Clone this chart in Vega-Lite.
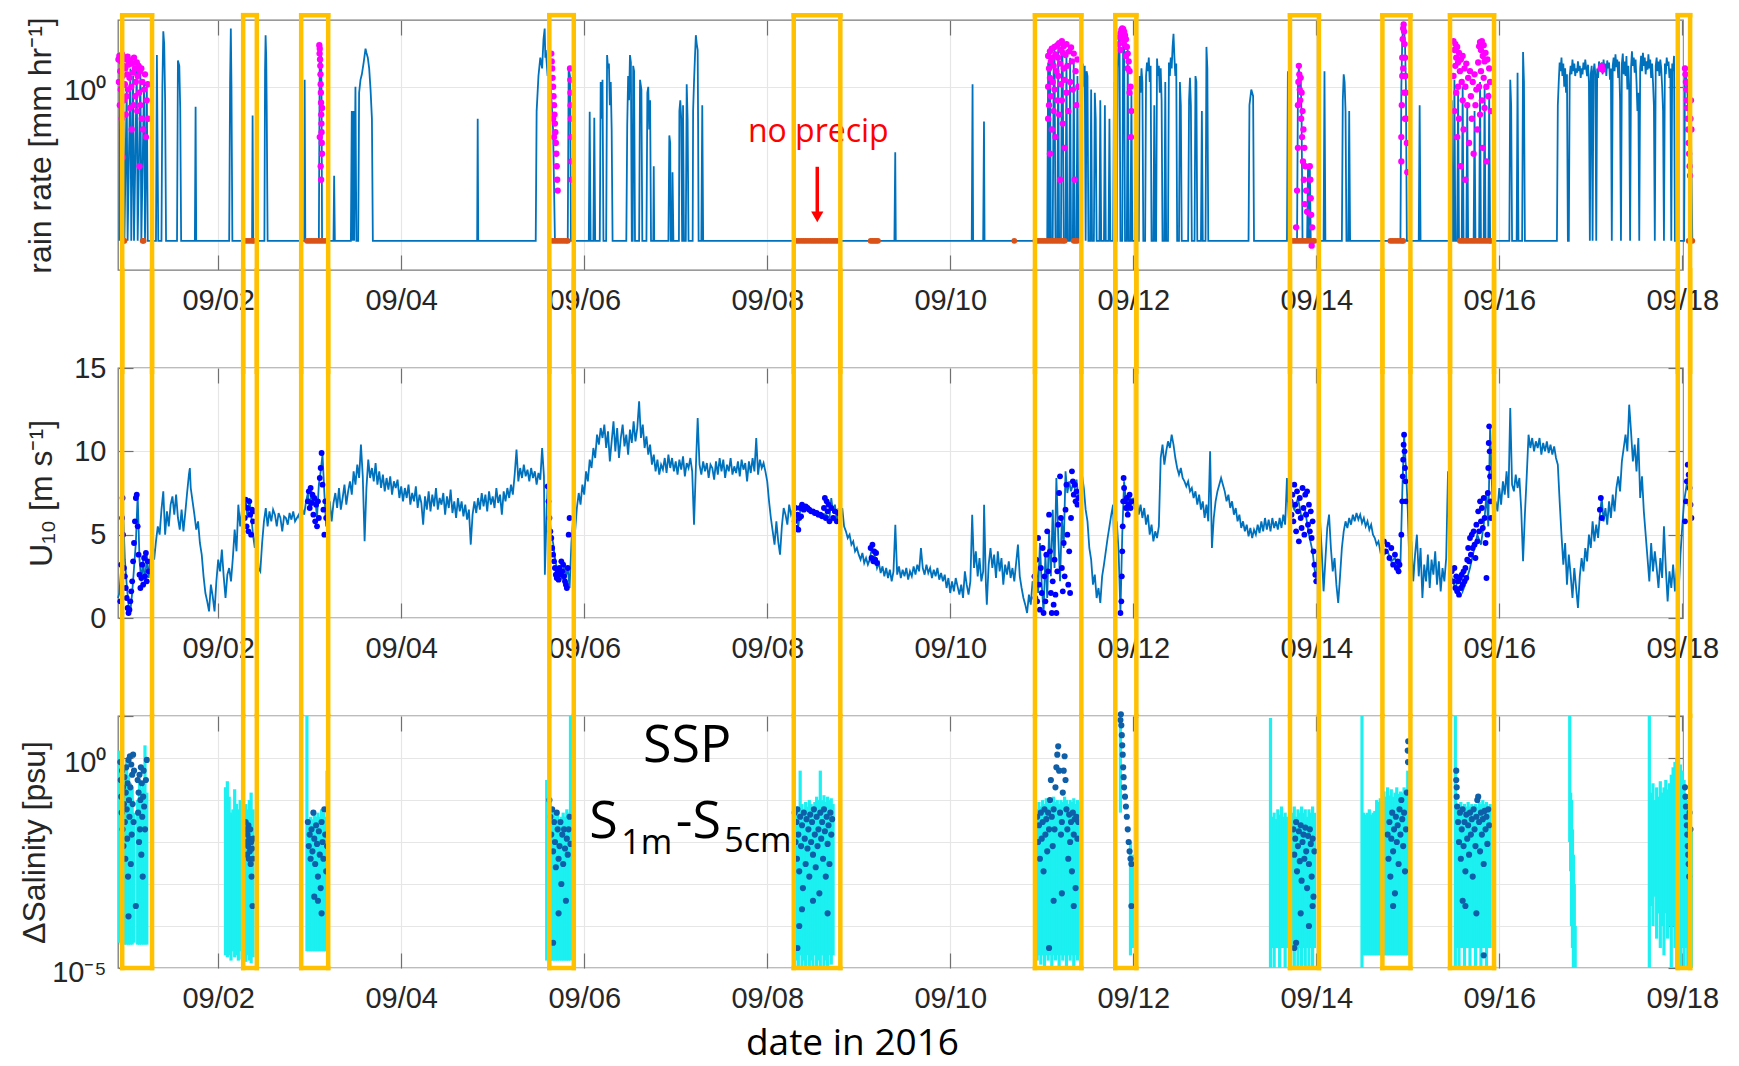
{
"$schema":"https://vega.github.io/schema/vega-lite/v6.json",
"background":"white",
"padding":{"left":17,"top":11,"right":5,"bottom":8},
"bounds":"flush",
"spacing":98,
"config":{
 "font":"Liberation Sans",
 "view":{"stroke":"#7a7a7a","strokeWidth":1.3},
 "axis":{"domain":false,"tickSize":-15,"tickColor":"#707070","tickWidth":1.2,"labelFont":"Liberation Sans","labelFontSize":29,"labelColor":"#262626","gridColor":"#e6e6e6","gridWidth":1.2,"titleFont":"Liberation Sans","titleFontSize":32,"titleFontWeight":"normal","titleColor":"#262626"}
},
"datasets":{
"boxes":[{"a":0.951,"b":1.277},{"a":2.273,"b":2.422},{"a":2.907,"b":3.202},{"a":5.619,"b":5.886},{"a":8.29,"b":8.799},{"a":10.926,"b":11.433},{"a":11.804,"b":12.034},{"a":13.713,"b":14.029},{"a":14.723,"b":15.029},{"a":15.462,"b":15.943},{"a":17.951,"b":18.086}],
"rain":[{"d":0.92,"r":0.003},{"d":0.93,"r":3.0},{"d":0.945,"r":0.003},{"d":0.96,"r":2.5},{"d":0.975,"r":0.003},{"d":1.0,"r":1.0},{"d":1.01,"r":0.003},{"d":1.04,"r":2.0},{"d":1.05,"r":0.003},{"d":1.07,"r":1.5},{"d":1.08,"r":0.003},{"d":1.11,"r":2.2},{"d":1.12,"r":0.003},{"d":1.15,"r":1.8},{"d":1.16,"r":0.003},{"d":1.19,"r":1.3},{"d":1.2,"r":0.003},{"d":1.22,"r":1.0},{"d":1.23,"r":0.003},{"d":1.32,"r":0.003},{"d":1.33,"r":3.3},{"d":1.345,"r":0.003},{"d":1.38,"r":0.003},{"d":1.39,"r":1.0},{"d":1.4,"r":8.1},{"d":1.41,"r":5.0},{"d":1.42,"r":0.6},{"d":1.43,"r":0.003},{"d":1.55,"r":0.003},{"d":1.56,"r":2.7},{"d":1.575,"r":2.2},{"d":1.585,"r":0.45},{"d":1.595,"r":0.003},{"d":1.745,"r":0.003},{"d":1.753,"r":0.47},{"d":1.76,"r":0.003},{"d":2.12,"r":0.003},{"d":2.13,"r":1.2},{"d":2.138,"r":9.0},{"d":2.145,"r":1.0},{"d":2.155,"r":0.003},{"d":2.37,"r":0.003},{"d":2.376,"r":0.34},{"d":2.382,"r":0.003},{"d":2.505,"r":0.003},{"d":2.512,"r":1.8},{"d":2.518,"r":7.0},{"d":2.525,"r":3.0},{"d":2.53,"r":0.5},{"d":2.54,"r":0.003},{"d":2.94,"r":0.003},{"d":2.945,"r":1.3},{"d":2.952,"r":0.003},{"d":3.1,"r":0.003},{"d":3.11,"r":4.5},{"d":3.12,"r":2.0},{"d":3.125,"r":4.8},{"d":3.13,"r":0.5},{"d":3.135,"r":0.003},{"d":3.26,"r":0.003},{"d":3.267,"r":0.035},{"d":3.275,"r":0.003},{"d":3.45,"r":0.003},{"d":3.46,"r":0.4},{"d":3.47,"r":0.003},{"d":3.48,"r":0.4},{"d":3.485,"r":0.003},{"d":3.5,"r":1.0},{"d":3.51,"r":0.003},{"d":3.53,"r":0.003},{"d":3.54,"r":0.8},{"d":3.555,"r":1.3},{"d":3.57,"r":1.6},{"d":3.59,"r":2.5},{"d":3.61,"r":4.2},{"d":3.62,"r":3.6},{"d":3.635,"r":3.0},{"d":3.65,"r":2.0},{"d":3.665,"r":0.9},{"d":3.68,"r":0.3},{"d":3.69,"r":0.003},{"d":4.83,"r":0.003},{"d":4.836,"r":0.3},{"d":4.842,"r":0.003},{"d":5.47,"r":0.003},{"d":5.48,"r":0.4},{"d":5.5,"r":1.5},{"d":5.52,"r":3.0},{"d":5.54,"r":2.0},{"d":5.555,"r":6.0},{"d":5.568,"r":9.0},{"d":5.575,"r":3.0},{"d":5.58,"r":4.0},{"d":5.6,"r":1.5},{"d":5.62,"r":2.5},{"d":5.64,"r":0.7},{"d":5.66,"r":0.2},{"d":5.68,"r":0.003},{"d":5.82,"r":0.003},{"d":5.83,"r":2.0},{"d":5.845,"r":1.5},{"d":5.855,"r":0.003},{"d":6.05,"r":0.003},{"d":6.06,"r":0.39},{"d":6.07,"r":0.003},{"d":6.1,"r":0.003},{"d":6.11,"r":0.31},{"d":6.12,"r":0.003},{"d":6.17,"r":0.003},{"d":6.18,"r":1.2},{"d":6.19,"r":0.3},{"d":6.2,"r":1.3},{"d":6.21,"r":0.003},{"d":6.24,"r":0.003},{"d":6.25,"r":3.3},{"d":6.26,"r":2.0},{"d":6.27,"r":2.4},{"d":6.28,"r":0.5},{"d":6.29,"r":1.2},{"d":6.3,"r":0.2},{"d":6.31,"r":0.003},{"d":6.46,"r":0.003},{"d":6.47,"r":0.23},{"d":6.48,"r":1.5},{"d":6.49,"r":0.6},{"d":6.5,"r":3.3},{"d":6.51,"r":2.5},{"d":6.52,"r":0.003},{"d":6.53,"r":0.003},{"d":6.535,"r":2.2},{"d":6.545,"r":1.8},{"d":6.555,"r":0.003},{"d":6.6,"r":0.003},{"d":6.61,"r":1.3},{"d":6.625,"r":0.9},{"d":6.635,"r":0.003},{"d":6.68,"r":0.003},{"d":6.69,"r":0.8},{"d":6.7,"r":1.0},{"d":6.71,"r":0.2},{"d":6.72,"r":0.6},{"d":6.73,"r":0.003},{"d":6.755,"r":0.003},{"d":6.76,"r":0.05},{"d":6.765,"r":0.003},{"d":6.92,"r":0.003},{"d":6.93,"r":0.16},{"d":6.94,"r":0.12},{"d":6.945,"r":0.003},{"d":6.96,"r":0.003},{"d":6.965,"r":0.04},{"d":6.975,"r":0.003},{"d":7.035,"r":0.003},{"d":7.04,"r":0.4},{"d":7.05,"r":0.6},{"d":7.06,"r":0.3},{"d":7.07,"r":0.003},{"d":7.075,"r":0.003},{"d":7.08,"r":0.5},{"d":7.09,"r":0.003},{"d":7.11,"r":0.003},{"d":7.12,"r":1.1},{"d":7.13,"r":0.3},{"d":7.14,"r":0.003},{"d":7.185,"r":0.003},{"d":7.19,"r":0.4},{"d":7.2,"r":1.2},{"d":7.21,"r":3.0},{"d":7.22,"r":7.0},{"d":7.23,"r":5.0},{"d":7.24,"r":4.0},{"d":7.245,"r":0.2},{"d":7.25,"r":0.003},{"d":7.28,"r":0.003},{"d":7.29,"r":0.5},{"d":7.3,"r":0.003},{"d":9.39,"r":0.003},{"d":9.399,"r":0.085},{"d":9.405,"r":0.003},{"d":10.235,"r":0.003},{"d":10.244,"r":1.1},{"d":10.25,"r":0.003},{"d":10.36,"r":0.003},{"d":10.369,"r":0.27},{"d":10.375,"r":0.003},{"d":11.06,"r":0.003},{"d":11.07,"r":2.5},{"d":11.08,"r":0.003},{"d":11.09,"r":3.5},{"d":11.1,"r":0.003},{"d":11.12,"r":0.003},{"d":11.13,"r":2.0},{"d":11.14,"r":4.0},{"d":11.15,"r":0.003},{"d":11.17,"r":0.003},{"d":11.18,"r":4.5},{"d":11.19,"r":0.003},{"d":11.21,"r":0.003},{"d":11.22,"r":5.0},{"d":11.23,"r":2.0},{"d":11.24,"r":0.003},{"d":11.26,"r":0.003},{"d":11.27,"r":4.0},{"d":11.28,"r":0.003},{"d":11.3,"r":0.003},{"d":11.31,"r":3.0},{"d":11.32,"r":0.003},{"d":11.34,"r":0.003},{"d":11.35,"r":2.5},{"d":11.36,"r":0.003},{"d":11.38,"r":0.003},{"d":11.39,"r":1.5},{"d":11.4,"r":0.003},{"d":11.42,"r":0.003},{"d":11.43,"r":2.0},{"d":11.44,"r":0.5},{"d":11.45,"r":2.4},{"d":11.46,"r":1.0},{"d":11.47,"r":2.2},{"d":11.48,"r":0.003},{"d":11.49,"r":1.8},{"d":11.5,"r":1.5},{"d":11.51,"r":0.003},{"d":11.53,"r":0.003},{"d":11.54,"r":0.9},{"d":11.55,"r":0.003},{"d":11.57,"r":0.003},{"d":11.58,"r":0.8},{"d":11.59,"r":0.3},{"d":11.6,"r":0.003},{"d":11.63,"r":0.003},{"d":11.64,"r":0.6},{"d":11.65,"r":0.003},{"d":11.68,"r":0.003},{"d":11.69,"r":0.5},{"d":11.7,"r":0.003},{"d":11.73,"r":0.003},{"d":11.74,"r":0.3},{"d":11.75,"r":0.003},{"d":11.78,"r":0.003},{"d":11.79,"r":1.2},{"d":11.8,"r":0.003},{"d":11.82,"r":0.003},{"d":11.83,"r":2.0},{"d":11.84,"r":5.0},{"d":11.85,"r":7.0},{"d":11.86,"r":0.003},{"d":11.88,"r":0.003},{"d":11.89,"r":9.0},{"d":11.9,"r":8.0},{"d":11.91,"r":0.003},{"d":11.93,"r":0.003},{"d":11.94,"r":4.0},{"d":11.95,"r":0.003},{"d":11.97,"r":0.003},{"d":11.98,"r":0.8},{"d":11.99,"r":0.003},{"d":12.02,"r":0.003},{"d":12.03,"r":0.5},{"d":12.04,"r":0.003},{"d":12.06,"r":0.003},{"d":12.07,"r":1.5},{"d":12.08,"r":0.8},{"d":12.09,"r":2.0},{"d":12.1,"r":1.2},{"d":12.11,"r":0.003},{"d":12.13,"r":0.003},{"d":12.14,"r":1.5},{"d":12.15,"r":2.5},{"d":12.16,"r":1.8},{"d":12.17,"r":3.0},{"d":12.18,"r":1.2},{"d":12.19,"r":2.2},{"d":12.2,"r":0.003},{"d":12.22,"r":0.003},{"d":12.23,"r":0.5},{"d":12.24,"r":0.003},{"d":12.25,"r":0.003},{"d":12.26,"r":2.9},{"d":12.27,"r":1.5},{"d":12.28,"r":2.2},{"d":12.29,"r":0.8},{"d":12.3,"r":2.0},{"d":12.31,"r":0.6},{"d":12.32,"r":0.003},{"d":12.34,"r":0.003},{"d":12.35,"r":1.2},{"d":12.36,"r":0.003},{"d":12.38,"r":0.003},{"d":12.39,"r":2.5},{"d":12.4,"r":1.5},{"d":12.41,"r":3.0},{"d":12.42,"r":2.0},{"d":12.43,"r":4.5},{"d":12.44,"r":7.4},{"d":12.45,"r":3.0},{"d":12.46,"r":1.5},{"d":12.47,"r":2.4},{"d":12.48,"r":0.003},{"d":12.5,"r":0.003},{"d":12.51,"r":1.2},{"d":12.52,"r":0.5},{"d":12.53,"r":0.003},{"d":12.6,"r":0.003},{"d":12.61,"r":0.6},{"d":12.62,"r":1.4},{"d":12.63,"r":0.5},{"d":12.64,"r":0.003},{"d":12.67,"r":0.003},{"d":12.68,"r":1.5},{"d":12.69,"r":1.2},{"d":12.7,"r":0.003},{"d":12.74,"r":0.003},{"d":12.75,"r":0.4},{"d":12.76,"r":0.003},{"d":12.79,"r":0.003},{"d":12.8,"r":4.5},{"d":12.81,"r":2.0},{"d":12.82,"r":0.003},{"d":13.26,"r":0.003},{"d":13.27,"r":0.5},{"d":13.29,"r":0.9},{"d":13.31,"r":0.7},{"d":13.32,"r":0.003},{"d":13.68,"r":0.003},{"d":13.69,"r":1.8},{"d":13.7,"r":0.003},{"d":13.79,"r":0.003},{"d":13.8,"r":1.0},{"d":13.81,"r":2.2},{"d":13.82,"r":0.8},{"d":13.83,"r":1.5},{"d":13.84,"r":0.3},{"d":13.85,"r":0.003},{"d":13.9,"r":0.003},{"d":13.91,"r":0.05},{"d":13.92,"r":0.003},{"d":13.93,"r":0.05},{"d":13.94,"r":0.003},{"d":14.08,"r":0.003},{"d":14.09,"r":1.8},{"d":14.1,"r":0.003},{"d":14.28,"r":0.003},{"d":14.29,"r":0.6},{"d":14.3,"r":1.6},{"d":14.31,"r":1.2},{"d":14.32,"r":0.4},{"d":14.33,"r":0.003},{"d":14.35,"r":0.003},{"d":14.36,"r":0.4},{"d":14.37,"r":0.003},{"d":14.92,"r":0.003},{"d":14.93,"r":1.0},{"d":14.94,"r":6.0},{"d":14.95,"r":10.0},{"d":14.96,"r":9.0},{"d":14.97,"r":5.0},{"d":14.98,"r":1.0},{"d":14.99,"r":0.003},{"d":15.12,"r":0.003},{"d":15.13,"r":0.5},{"d":15.14,"r":0.003},{"d":15.47,"r":0.003},{"d":15.48,"r":0.6},{"d":15.49,"r":0.003},{"d":15.5,"r":0.003},{"d":15.51,"r":1.3},{"d":15.52,"r":0.003},{"d":15.54,"r":0.003},{"d":15.55,"r":0.8},{"d":15.56,"r":0.003},{"d":15.59,"r":0.003},{"d":15.6,"r":1.0},{"d":15.61,"r":0.003},{"d":15.64,"r":0.003},{"d":15.65,"r":0.5},{"d":15.66,"r":0.003},{"d":15.72,"r":0.003},{"d":15.73,"r":0.4},{"d":15.74,"r":0.003},{"d":15.78,"r":0.003},{"d":15.79,"r":1.2},{"d":15.8,"r":0.003},{"d":15.83,"r":0.003},{"d":15.84,"r":1.0},{"d":15.85,"r":0.003},{"d":15.88,"r":0.003},{"d":15.89,"r":0.8},{"d":15.9,"r":0.003},{"d":16.11,"r":0.003},{"d":16.12,"r":1.3},{"d":16.13,"r":0.5},{"d":16.14,"r":0.003},{"d":16.19,"r":0.003},{"d":16.2,"r":1.7},{"d":16.21,"r":0.003},{"d":16.25,"r":0.003},{"d":16.26,"r":3.7},{"d":16.27,"r":1.2},{"d":16.28,"r":0.003},{"d":16.63,"r":0.003},{"d":16.64,"r":0.5},{"d":16.65,"r":1.2},{"d":16.66,"r":2.5},{"d":16.67,"r":1.8},{"d":16.68,"r":3.0},{"d":16.69,"r":1.5},{"d":16.7,"r":2.4},{"d":16.71,"r":1.0},{"d":16.72,"r":2.0},{"d":16.73,"r":0.8},{"d":16.74,"r":1.6},{"d":16.75,"r":0.003},{"d":16.76,"r":0.003},{"d":16.77,"r":1.5},{"d":16.78,"r":2.2},{"d":16.79,"r":1.6},{"d":16.8,"r":2.8},{"d":16.81,"r":1.8},{"d":16.82,"r":2.4},{"d":16.83,"r":1.5},{"d":16.84,"r":2.0},{"d":16.85,"r":1.7},{"d":16.86,"r":2.6},{"d":16.87,"r":1.8},{"d":16.88,"r":2.2},{"d":16.89,"r":1.4},{"d":16.9,"r":2.0},{"d":16.91,"r":1.6},{"d":16.92,"r":2.5},{"d":16.93,"r":1.9},{"d":16.94,"r":2.8},{"d":16.95,"r":2.0},{"d":16.96,"r":1.5},{"d":16.97,"r":2.3},{"d":16.98,"r":1.2},{"d":16.99,"r":0.003},{"d":17.0,"r":1.6},{"d":17.01,"r":2.2},{"d":17.02,"r":0.003},{"d":17.03,"r":1.8},{"d":17.04,"r":2.4},{"d":17.05,"r":1.6},{"d":17.06,"r":0.003},{"d":17.07,"r":2.0},{"d":17.08,"r":1.4},{"d":17.09,"r":2.6},{"d":17.1,"r":1.8},{"d":17.11,"r":2.2},{"d":17.12,"r":2.5},{"d":17.13,"r":1.6},{"d":17.14,"r":2.8},{"d":17.15,"r":1.9},{"d":17.16,"r":2.4},{"d":17.17,"r":1.5},{"d":17.18,"r":2.7},{"d":17.19,"r":2.0},{"d":17.2,"r":2.5},{"d":17.21,"r":1.3},{"d":17.22,"r":2.0},{"d":17.23,"r":0.003},{"d":17.24,"r":2.2},{"d":17.25,"r":3.0},{"d":17.26,"r":1.8},{"d":17.27,"r":3.4},{"d":17.28,"r":2.1},{"d":17.29,"r":2.8},{"d":17.3,"r":1.4},{"d":17.31,"r":2.6},{"d":17.32,"r":0.6},{"d":17.33,"r":0.003},{"d":17.34,"r":2.4},{"d":17.35,"r":3.5},{"d":17.36,"r":1.6},{"d":17.37,"r":2.6},{"d":17.38,"r":1.5},{"d":17.39,"r":3.2},{"d":17.4,"r":0.9},{"d":17.41,"r":2.2},{"d":17.42,"r":1.0},{"d":17.43,"r":0.003},{"d":17.44,"r":2.0},{"d":17.45,"r":3.8},{"d":17.46,"r":2.2},{"d":17.47,"r":3.0},{"d":17.48,"r":1.7},{"d":17.49,"r":2.8},{"d":17.5,"r":1.2},{"d":17.51,"r":0.4},{"d":17.52,"r":0.8},{"d":17.53,"r":0.003},{"d":17.54,"r":2.0},{"d":17.55,"r":3.2},{"d":17.56,"r":1.8},{"d":17.57,"r":3.6},{"d":17.58,"r":2.2},{"d":17.59,"r":3.0},{"d":17.6,"r":1.6},{"d":17.61,"r":2.6},{"d":17.62,"r":1.9},{"d":17.63,"r":3.4},{"d":17.64,"r":2.0},{"d":17.65,"r":2.8},{"d":17.66,"r":1.4},{"d":17.67,"r":2.4},{"d":17.68,"r":1.2},{"d":17.69,"r":0.5},{"d":17.7,"r":0.003},{"d":17.71,"r":2.2},{"d":17.72,"r":3.0},{"d":17.73,"r":1.8},{"d":17.74,"r":2.6},{"d":17.75,"r":1.5},{"d":17.76,"r":2.8},{"d":17.77,"r":2.0},{"d":17.78,"r":1.0},{"d":17.79,"r":0.4},{"d":17.8,"r":0.003},{"d":17.81,"r":2.4},{"d":17.82,"r":1.6},{"d":17.83,"r":3.0},{"d":17.84,"r":2.2},{"d":17.85,"r":2.6},{"d":17.86,"r":1.4},{"d":17.87,"r":2.0},{"d":17.88,"r":0.003},{"d":17.89,"r":2.4},{"d":17.9,"r":1.8},{"d":17.91,"r":3.2},{"d":17.92,"r":0.003},{"d":18.02,"r":0.003},{"d":18.03,"r":2.0},{"d":18.05,"r":1.2},{"d":18.07,"r":0.3},{"d":18.09,"r":0.8},{"d":18.11,"r":0.003}],
"rainDots":[{"d":0.91,"r":2.8},{"d":0.915,"r":1.2},{"d":0.92,"r":3.2},{"d":0.925,"r":0.5},{"d":0.93,"r":1.8},{"d":0.935,"r":0.9},{"d":0.94,"r":2.6},{"d":0.945,"r":0.3},{"d":0.95,"r":3.4},{"d":0.955,"r":1.5},{"d":0.96,"r":0.07},{"d":0.965,"r":2.2},{"d":0.97,"r":0.6},{"d":0.975,"r":3.0},{"d":0.98,"r":1.1},{"d":0.985,"r":2.0},{"d":0.99,"r":0.35},{"d":0.995,"r":2.8},{"d":1.0,"r":0.7},{"d":1.005,"r":1.6},{"d":1.01,"r":3.1},{"d":1.015,"r":0.9},{"d":1.02,"r":2.3},{"d":1.03,"r":1.4},{"d":1.035,"r":0.45},{"d":1.04,"r":2.7},{"d":1.05,"r":1.0},{"d":1.055,"r":0.2},{"d":1.06,"r":2.4},{"d":1.07,"r":1.7},{"d":1.075,"r":0.5},{"d":1.08,"r":3.0},{"d":1.09,"r":2.0},{"d":1.095,"r":0.7},{"d":1.1,"r":1.2},{"d":1.11,"r":2.5},{"d":1.115,"r":0.4},{"d":1.12,"r":1.5},{"d":1.13,"r":2.2},{"d":1.135,"r":0.8},{"d":1.14,"r":0.05},{"d":1.145,"r":1.8},{"d":1.15,"r":0.5},{"d":1.16,"r":2.0},{"d":1.165,"r":0.3},{"d":1.17,"r":1.2},{"d":1.18,"r":0.2},{"d":1.19,"r":0.9},{"d":1.2,"r":1.6},{"d":1.21,"r":0.15},{"d":1.22,"r":0.6},{"d":1.23,"r":1.1},{"d":1.235,"r":0.3},
{"d":3.105,"r":4.8},{"d":3.108,"r":3.5},{"d":3.11,"r":4.2},{"d":3.113,"r":2.8},{"d":3.116,"r":2.2},{"d":3.118,"r":1.6},{"d":3.12,"r":1.1},{"d":3.122,"r":0.8},{"d":3.124,"r":0.55},{"d":3.126,"r":0.35},{"d":3.128,"r":0.25},{"d":3.13,"r":0.18},{"d":3.132,"r":0.12},{"d":3.134,"r":0.08},{"d":3.12,"r":0.05},{"d":3.125,"r":0.03},{"d":3.135,"r":0.45},{"d":3.11,"r":0.15},
{"d":5.64,"r":3.5},{"d":5.645,"r":2.6},{"d":5.65,"r":2.0},{"d":5.655,"r":1.4},{"d":5.66,"r":1.0},{"d":5.665,"r":0.7},{"d":5.67,"r":0.5},{"d":5.675,"r":0.35},{"d":5.68,"r":0.25},{"d":5.685,"r":0.18},{"d":5.69,"r":0.12},{"d":5.695,"r":0.08},{"d":5.7,"r":0.05},{"d":5.705,"r":0.03},{"d":5.71,"r":0.02},{"d":5.66,"r":0.3},{"d":5.67,"r":0.15},{"d":5.845,"r":2.0},{"d":5.848,"r":1.3},{"d":5.85,"r":0.8},{"d":5.852,"r":0.5},{"d":5.855,"r":0.3},{"d":5.858,"r":0.15},{"d":5.86,"r":0.06},{"d":5.862,"r":0.03},
{"d":11.07,"r":3.2},{"d":11.07,"r":1.0},{"d":11.07,"r":0.3},{"d":11.08,"r":2.0},{"d":11.08,"r":0.5},{"d":11.09,"r":3.8},{"d":11.09,"r":1.4},{"d":11.09,"r":0.08},{"d":11.1,"r":2.6},{"d":11.1,"r":0.7},{"d":11.11,"r":4.2},{"d":11.11,"r":0.2},{"d":11.12,"r":3.0},{"d":11.12,"r":1.2},{"d":11.13,"r":0.4},{"d":11.13,"r":2.2},{"d":11.14,"r":4.5},{"d":11.14,"r":0.9},{"d":11.15,"r":3.4},{"d":11.15,"r":0.15},{"d":11.16,"r":1.8},{"d":11.17,"r":4.8},{"d":11.17,"r":0.6},{"d":11.18,"r":3.0},{"d":11.18,"r":1.5},{"d":11.19,"r":5.2},{"d":11.19,"r":0.35},{"d":11.2,"r":2.4},{"d":11.2,"r":0.03},{"d":11.21,"r":4.0},{"d":11.21,"r":1.1},{"d":11.22,"r":5.6},{"d":11.22,"r":0.6},{"d":11.23,"r":3.6},{"d":11.23,"r":0.25},{"d":11.24,"r":2.0},{"d":11.24,"r":4.6},{"d":11.25,"r":1.3},{"d":11.25,"r":0.1},{"d":11.26,"r":3.3},{"d":11.27,"r":0.8},{"d":11.27,"r":5.0},{"d":11.28,"r":2.2},{"d":11.29,"r":0.4},{"d":11.3,"r":3.8},{"d":11.31,"r":1.2},{"d":11.32,"r":4.4},{"d":11.33,"r":2.6},{"d":11.34,"r":0.9},{"d":11.35,"r":3.5},{"d":11.36,"r":0.03},{"d":11.37,"r":1.8},{"d":11.38,"r":0.5},{"d":11.39,"r":2.8},{"d":11.4,"r":1.0},
{"d":11.84,"r":5.0},{"d":11.85,"r":6.5},{"d":11.86,"r":7.5},{"d":11.87,"r":8.5},{"d":11.88,"r":9.0},{"d":11.89,"r":8.8},{"d":11.9,"r":8.0},{"d":11.91,"r":7.0},{"d":11.92,"r":6.0},{"d":11.93,"r":4.5},{"d":11.94,"r":3.5},{"d":11.95,"r":2.6},{"d":11.96,"r":1.8},{"d":11.97,"r":1.0},{"d":11.98,"r":0.4},{"d":11.86,"r":4.0},{"d":11.88,"r":6.0},{"d":11.9,"r":5.0},{"d":11.92,"r":3.2},{"d":11.94,"r":2.0},{"d":11.96,"r":0.8},{"d":11.975,"r":0.15},
{"d":13.78,"r":0.005},{"d":13.79,"r":0.02},{"d":13.8,"r":0.1},{"d":13.8,"r":0.5},{"d":13.805,"r":1.2},{"d":13.81,"r":2.2},{"d":13.815,"r":1.6},{"d":13.82,"r":0.9},{"d":13.825,"r":0.6},{"d":13.83,"r":1.4},{"d":13.835,"r":0.3},{"d":13.84,"r":0.8},{"d":13.845,"r":0.15},{"d":13.85,"r":0.4},{"d":13.855,"r":0.06},{"d":13.86,"r":0.2},{"d":13.865,"r":0.03},{"d":13.87,"r":0.1},{"d":13.875,"r":0.012},{"d":13.88,"r":0.05},{"d":13.89,"r":0.02},{"d":13.9,"r":0.009},{"d":13.93,"r":0.05},{"d":13.935,"r":0.03},{"d":13.94,"r":0.015},{"d":13.945,"r":0.008},{"d":13.95,"r":0.0025},{"d":13.955,"r":0.005},
{"d":14.93,"r":0.15},{"d":14.935,"r":0.5},{"d":14.94,"r":1.5},{"d":14.94,"r":3.0},{"d":14.945,"r":6.0},{"d":14.95,"r":9.0},{"d":14.955,"r":10.5},{"d":14.96,"r":8.0},{"d":14.965,"r":5.0},{"d":14.97,"r":3.0},{"d":14.975,"r":1.5},{"d":14.98,"r":0.8},{"d":14.985,"r":0.3},{"d":14.99,"r":0.12},{"d":14.995,"r":0.04},{"d":14.95,"r":2.0},{"d":14.96,"r":0.8},{"d":14.97,"r":0.3},{"d":14.93,"r":0.06},
{"d":15.5,"r":5.6},{"d":15.5,"r":1.5},{"d":15.51,"r":4.0},{"d":15.51,"r":0.4},{"d":15.52,"r":5.0},{"d":15.52,"r":2.2},{"d":15.53,"r":3.0},{"d":15.53,"r":0.8},{"d":15.54,"r":4.5},{"d":15.54,"r":0.15},{"d":15.55,"r":2.5},{"d":15.55,"r":1.0},{"d":15.56,"r":3.6},{"d":15.56,"r":0.3},{"d":15.57,"r":1.8},{"d":15.58,"r":2.8},{"d":15.58,"r":0.05},{"d":15.59,"r":1.2},{"d":15.6,"r":3.2},{"d":15.6,"r":0.6},{"d":15.61,"r":0.2},{"d":15.62,"r":2.0},{"d":15.63,"r":1.0},{"d":15.63,"r":0.03},{"d":15.64,"r":2.4},{"d":15.65,"r":0.5},{"d":15.66,"r":1.4},{"d":15.67,"r":0.12},{"d":15.68,"r":1.8},{"d":15.69,"r":0.7},{"d":15.7,"r":0.3},{"d":15.71,"r":1.2},{"d":15.72,"r":0.08},{"d":15.73,"r":1.6},{"d":15.74,"r":0.5},{"d":15.75,"r":0.9},{"d":15.76,"r":0.2},{"d":15.77,"r":2.5},{"d":15.78,"r":4.6},{"d":15.78,"r":1.0},{"d":15.79,"r":5.4},{"d":15.79,"r":0.35},{"d":15.8,"r":4.0},{"d":15.8,"r":1.8},{"d":15.81,"r":5.6},{"d":15.81,"r":0.6},{"d":15.82,"r":3.2},{"d":15.82,"r":0.1},{"d":15.83,"r":4.8},{"d":15.83,"r":1.4},{"d":15.84,"r":2.6},{"d":15.84,"r":0.45},{"d":15.85,"r":3.6},{"d":15.86,"r":1.0},{"d":15.86,"r":0.06},{"d":15.87,"r":2.8},{"d":15.88,"r":0.7},{"d":15.89,"r":2.0},{"d":15.9,"r":1.2},{"d":15.91,"r":0.4},
{"d":17.11,"r":2.0},{"d":17.12,"r":2.2},{"d":17.13,"r":1.9},
{"d":18.03,"r":2.0},{"d":18.035,"r":1.6},{"d":18.04,"r":1.2},{"d":18.045,"r":0.9},{"d":18.05,"r":0.6},{"d":18.055,"r":0.45},{"d":18.06,"r":0.3},{"d":18.065,"r":0.2},{"d":18.07,"r":0.12},{"d":18.075,"r":0.08},{"d":18.08,"r":0.05},{"d":18.085,"r":0.035},{"d":18.09,"r":0.3},{"d":18.095,"r":0.6},{"d":18.1,"r":0.2}],
"noPrecip":[{"d":0.965},{"d":0.975},{"d":1.175},{"d":1.185},{"d":2.3},{"d":2.325},{"d":2.35},{"d":2.375},{"d":2.39},{"d":2.97},{"d":2.995},{"d":3.02},{"d":3.045},{"d":3.07},{"d":3.095},{"d":3.12},{"d":3.145},{"d":3.17},{"d":5.65},{"d":5.675},{"d":5.7},{"d":5.725},{"d":5.75},{"d":5.775},{"d":5.8},{"d":5.82},{"d":8.32},{"d":8.345},{"d":8.37},{"d":8.395},{"d":8.42},{"d":8.445},{"d":8.47},{"d":8.495},{"d":8.52},{"d":8.545},{"d":8.57},{"d":8.595},{"d":8.62},{"d":8.645},{"d":8.67},{"d":8.695},{"d":8.72},{"d":8.745},{"d":8.77},{"d":9.13},{"d":9.15},{"d":9.17},{"d":9.19},{"d":9.21},{"d":10.7},{"d":10.93},{"d":10.955},{"d":10.98},{"d":11.005},{"d":11.03},{"d":11.055},{"d":11.08},{"d":11.105},{"d":11.13},{"d":11.155},{"d":11.18},{"d":11.205},{"d":11.23},{"d":11.25},{"d":11.35},{"d":11.37},{"d":11.39},{"d":13.74},{"d":13.765},{"d":13.79},{"d":13.815},{"d":13.84},{"d":13.865},{"d":13.89},{"d":13.915},{"d":13.94},{"d":13.965},{"d":13.98},{"d":14.81},{"d":14.835},{"d":14.86},{"d":14.885},{"d":14.91},{"d":14.935},{"d":14.95},{"d":15.57},{"d":15.595},{"d":15.62},{"d":15.645},{"d":15.67},{"d":15.695},{"d":15.72},{"d":15.745},{"d":15.77},{"d":15.795},{"d":15.82},{"d":15.845},{"d":15.87},{"d":15.895},{"d":15.91},{"d":18.07},{"d":18.09},{"d":18.11}],
"wind":[{"d":0.905,"u":1.2},{"d":0.92,"u":1.5},{"d":0.94,"u":3.0},{"d":0.96,"u":6.5},{"d":0.98,"u":3.5},{"d":1.0,"u":2.0},{"d":1.02,"u":0.8},{"d":1.04,"u":0.4},{"d":1.06,"u":1.5},{"d":1.08,"u":3.0},{"d":1.1,"u":4.5},{"d":1.12,"u":7.4},{"d":1.14,"u":3.5},{"d":1.16,"u":2.2},{"d":1.18,"u":3.5},{"d":1.2,"u":2.0},{"d":1.22,"u":3.8},{"d":1.24,"u":2.4},{"d":1.26,"u":3.6},{"d":1.28,"u":4.8},{"d":1.3,"u":3.5},{"d":1.32,"u":4.6},{"d":1.34,"u":5.5},{"d":1.36,"u":5.0},{"d":1.38,"u":6.5},{"d":1.4,"u":7.6},{"d":1.42,"u":5.0},{"d":1.44,"u":6.4},{"d":1.46,"u":5.5},{"d":1.48,"u":6.8},{"d":1.5,"u":7.3},{"d":1.52,"u":6.2},{"d":1.54,"u":7.4},{"d":1.56,"u":6.0},{"d":1.58,"u":5.3},{"d":1.6,"u":6.5},{"d":1.62,"u":5.2},{"d":1.64,"u":6.3},{"d":1.66,"u":7.5},{"d":1.68,"u":8.6},{"d":1.69,"u":9.0},{"d":1.7,"u":7.8},{"d":1.72,"u":7.0},{"d":1.74,"u":6.2},{"d":1.76,"u":5.3},{"d":1.78,"u":5.8},{"d":1.8,"u":4.5},{"d":1.82,"u":3.8},{"d":1.84,"u":2.5},{"d":1.86,"u":1.5},{"d":1.88,"u":1.0},{"d":1.9,"u":0.4},{"d":1.92,"u":2.0},{"d":1.94,"u":1.3},{"d":1.96,"u":0.4},{"d":1.98,"u":2.2},{"d":2.0,"u":3.5},{"d":2.02,"u":2.8},{"d":2.04,"u":4.1},{"d":2.06,"u":2.5},{"d":2.08,"u":1.2},{"d":2.1,"u":2.6},{"d":2.12,"u":3.0},{"d":2.14,"u":2.2},{"d":2.16,"u":3.6},{"d":2.18,"u":5.3},{"d":2.2,"u":4.0},{"d":2.22,"u":6.8},{"d":2.24,"u":5.5},{"d":2.26,"u":6.5},{"d":2.28,"u":6.8},{"d":2.3,"u":7.0},{"d":2.32,"u":6.0},{"d":2.34,"u":7.2},{"d":2.36,"u":6.2},{"d":2.38,"u":5.0},{"d":2.4,"u":4.2},{"d":2.42,"u":5.8},{"d":2.44,"u":3.0},{"d":2.46,"u":2.8},{"d":2.48,"u":4.5},{"d":2.5,"u":5.8},{"d":2.52,"u":6.6},{"d":2.54,"u":5.5},{"d":2.56,"u":6.4},{"d":2.58,"u":5.8},{"d":2.6,"u":6.5},{"d":2.62,"u":6.2},{"d":2.64,"u":5.5},{"d":2.66,"u":6.3},{"d":2.68,"u":6.0},{"d":2.7,"u":5.2},{"d":2.72,"u":6.1},{"d":2.74,"u":6.0},{"d":2.76,"u":5.6},{"d":2.78,"u":6.3},{"d":2.8,"u":5.9},{"d":2.82,"u":6.4},{"d":2.84,"u":5.8},{"d":2.86,"u":6.0},{"d":2.88,"u":6.2},{"d":2.9,"u":5.7},{"d":2.92,"u":6.5},{"d":2.94,"u":6.2},{"d":2.96,"u":7.0},{"d":2.98,"u":7.5},{"d":3.0,"u":6.5},{"d":3.02,"u":7.6},{"d":3.04,"u":6.8},{"d":3.06,"u":7.2},{"d":3.08,"u":6.0},{"d":3.1,"u":8.0},{"d":3.12,"u":8.8},{"d":3.14,"u":9.8},{"d":3.16,"u":7.5},{"d":3.18,"u":5.5},{"d":3.2,"u":6.2},{"d":3.22,"u":7.0},{"d":3.24,"u":5.8},{"d":3.26,"u":6.9},{"d":3.28,"u":7.5},{"d":3.3,"u":6.6},{"d":3.32,"u":7.8},{"d":3.34,"u":6.5},{"d":3.36,"u":7.2},{"d":3.38,"u":8.0},{"d":3.4,"u":6.8},{"d":3.42,"u":7.6},{"d":3.44,"u":8.2},{"d":3.46,"u":7.4},{"d":3.48,"u":8.8},{"d":3.5,"u":8.0},{"d":3.52,"u":9.2},{"d":3.54,"u":8.4},{"d":3.56,"u":10.4},{"d":3.58,"u":8.5},{"d":3.6,"u":4.6},{"d":3.62,"u":7.8},{"d":3.64,"u":9.5},{"d":3.66,"u":8.4},{"d":3.68,"u":9.0},{"d":3.7,"u":8.2},{"d":3.72,"u":9.3},{"d":3.74,"u":8.0},{"d":3.76,"u":8.8},{"d":3.78,"u":7.8},{"d":3.8,"u":8.6},{"d":3.82,"u":7.6},{"d":3.84,"u":8.4},{"d":3.86,"u":7.7},{"d":3.88,"u":8.5},{"d":3.9,"u":7.4},{"d":3.92,"u":8.2},{"d":3.94,"u":7.8},{"d":3.96,"u":8.3},{"d":3.98,"u":7.2},{"d":4.0,"u":7.9},{"d":4.02,"u":7.0},{"d":4.04,"u":7.8},{"d":4.06,"u":7.2},{"d":4.08,"u":8.0},{"d":4.1,"u":6.8},{"d":4.12,"u":7.5},{"d":4.14,"u":7.0},{"d":4.16,"u":7.9},{"d":4.18,"u":6.6},{"d":4.2,"u":7.4},{"d":4.22,"u":6.9},{"d":4.24,"u":5.6},{"d":4.26,"u":7.3},{"d":4.28,"u":6.5},{"d":4.3,"u":7.6},{"d":4.32,"u":6.4},{"d":4.34,"u":7.4},{"d":4.36,"u":6.7},{"d":4.38,"u":7.8},{"d":4.4,"u":6.5},{"d":4.42,"u":7.2},{"d":4.44,"u":6.8},{"d":4.46,"u":7.5},{"d":4.48,"u":6.2},{"d":4.5,"u":7.3},{"d":4.52,"u":6.6},{"d":4.54,"u":7.7},{"d":4.56,"u":6.3},{"d":4.58,"u":7.0},{"d":4.6,"u":6.0},{"d":4.62,"u":7.2},{"d":4.64,"u":6.4},{"d":4.66,"u":7.0},{"d":4.68,"u":6.1},{"d":4.7,"u":6.8},{"d":4.72,"u":5.9},{"d":4.74,"u":6.5},{"d":4.76,"u":4.4},{"d":4.78,"u":6.2},{"d":4.8,"u":7.0},{"d":4.82,"u":6.3},{"d":4.84,"u":7.2},{"d":4.86,"u":6.5},{"d":4.88,"u":7.5},{"d":4.9,"u":6.7},{"d":4.92,"u":7.4},{"d":4.94,"u":6.4},{"d":4.96,"u":7.6},{"d":4.98,"u":6.8},{"d":5.0,"u":7.3},{"d":5.02,"u":6.6},{"d":5.04,"u":7.8},{"d":5.06,"u":6.9},{"d":5.08,"u":7.4},{"d":5.1,"u":6.2},{"d":5.12,"u":7.6},{"d":5.14,"u":7.0},{"d":5.16,"u":7.8},{"d":5.18,"u":7.2},{"d":5.2,"u":8.0},{"d":5.22,"u":7.4},{"d":5.24,"u":8.6},{"d":5.26,"u":10.1},{"d":5.28,"u":8.2},{"d":5.3,"u":9.0},{"d":5.32,"u":8.4},{"d":5.34,"u":9.2},{"d":5.36,"u":8.5},{"d":5.38,"u":8.9},{"d":5.4,"u":8.2},{"d":5.42,"u":9.0},{"d":5.44,"u":8.4},{"d":5.46,"u":8.8},{"d":5.48,"u":8.0},{"d":5.5,"u":8.7},{"d":5.52,"u":8.3},{"d":5.54,"u":10.2},{"d":5.56,"u":8.5},{"d":5.57,"u":2.6},{"d":5.59,"u":6.5},{"d":5.6,"u":7.9},{"d":5.62,"u":6.0},{"d":5.64,"u":5.0},{"d":5.66,"u":4.5},{"d":5.68,"u":3.6},{"d":5.7,"u":3.0},{"d":5.72,"u":2.5},{"d":5.74,"u":2.8},{"d":5.76,"u":2.3},{"d":5.78,"u":3.2},{"d":5.8,"u":2.5},{"d":5.82,"u":3.0},{"d":5.84,"u":1.8},{"d":5.86,"u":4.5},{"d":5.88,"u":6.0},{"d":5.9,"u":5.2},{"d":5.92,"u":6.6},{"d":5.94,"u":7.5},{"d":5.96,"u":6.8},{"d":5.98,"u":8.0},{"d":6.0,"u":7.4},{"d":6.02,"u":8.8},{"d":6.04,"u":8.2},{"d":6.06,"u":9.5},{"d":6.08,"u":9.0},{"d":6.1,"u":10.2},{"d":6.12,"u":9.6},{"d":6.14,"u":11.0},{"d":6.16,"u":10.4},{"d":6.18,"u":11.4},{"d":6.2,"u":10.8},{"d":6.22,"u":11.6},{"d":6.24,"u":10.2},{"d":6.26,"u":11.2},{"d":6.28,"u":9.4},{"d":6.3,"u":10.6},{"d":6.32,"u":11.8},{"d":6.34,"u":10.0},{"d":6.36,"u":11.4},{"d":6.38,"u":9.6},{"d":6.4,"u":10.8},{"d":6.42,"u":11.6},{"d":6.44,"u":10.3},{"d":6.46,"u":11.0},{"d":6.48,"u":9.8},{"d":6.5,"u":11.3},{"d":6.52,"u":10.5},{"d":6.54,"u":11.8},{"d":6.56,"u":10.6},{"d":6.58,"u":11.4},{"d":6.6,"u":13.0},{"d":6.62,"u":10.8},{"d":6.64,"u":11.6},{"d":6.66,"u":10.2},{"d":6.68,"u":10.9},{"d":6.7,"u":9.8},{"d":6.72,"u":10.4},{"d":6.74,"u":9.2},{"d":6.76,"u":9.8},{"d":6.78,"u":8.8},{"d":6.8,"u":9.5},{"d":6.82,"u":8.6},{"d":6.84,"u":9.2},{"d":6.86,"u":8.9},{"d":6.88,"u":9.6},{"d":6.9,"u":8.7},{"d":6.92,"u":9.8},{"d":6.94,"u":9.0},{"d":6.96,"u":9.6},{"d":6.98,"u":8.8},{"d":7.0,"u":9.4},{"d":7.02,"u":8.6},{"d":7.04,"u":9.5},{"d":7.06,"u":8.9},{"d":7.08,"u":9.7},{"d":7.1,"u":8.5},{"d":7.12,"u":9.3},{"d":7.14,"u":9.0},{"d":7.16,"u":9.6},{"d":7.18,"u":8.8},{"d":7.2,"u":5.6},{"d":7.22,"u":9.0},{"d":7.24,"u":12.0},{"d":7.26,"u":9.2},{"d":7.28,"u":8.6},{"d":7.3,"u":9.4},{"d":7.32,"u":8.8},{"d":7.34,"u":9.3},{"d":7.36,"u":8.4},{"d":7.38,"u":9.2},{"d":7.4,"u":9.0},{"d":7.42,"u":8.3},{"d":7.44,"u":9.4},{"d":7.46,"u":8.6},{"d":7.48,"u":9.6},{"d":7.5,"u":8.8},{"d":7.52,"u":9.5},{"d":7.54,"u":8.4},{"d":7.56,"u":9.2},{"d":7.58,"u":8.8},{"d":7.6,"u":9.6},{"d":7.62,"u":8.6},{"d":7.64,"u":9.1},{"d":7.66,"u":8.7},{"d":7.68,"u":9.4},{"d":7.7,"u":8.5},{"d":7.72,"u":9.5},{"d":7.74,"u":8.9},{"d":7.76,"u":9.3},{"d":7.78,"u":8.2},{"d":7.8,"u":9.4},{"d":7.82,"u":8.7},{"d":7.84,"u":9.6},{"d":7.86,"u":8.8},{"d":7.88,"u":10.8},{"d":7.9,"u":8.6},{"d":7.92,"u":9.5},{"d":7.94,"u":9.0},{"d":7.96,"u":9.3},{"d":7.98,"u":8.8},{"d":8.0,"u":8.2},{"d":8.02,"u":7.0},{"d":8.04,"u":6.0},{"d":8.06,"u":5.2},{"d":8.08,"u":4.4},{"d":8.1,"u":5.8},{"d":8.12,"u":4.6},{"d":8.14,"u":3.8},{"d":8.16,"u":5.5},{"d":8.18,"u":6.6},{"d":8.2,"u":6.2},{"d":8.22,"u":5.6},{"d":8.24,"u":6.8},{"d":8.26,"u":6.2},{"d":8.28,"u":6.5},{"d":8.3,"u":5.8},{"d":8.32,"u":6.2},{"d":8.34,"u":5.5},{"d":8.36,"u":6.4},{"d":8.4,"u":6.6},{"d":8.46,"u":6.5},{"d":8.52,"u":6.4},{"d":8.58,"u":6.3},{"d":8.64,"u":6.2},{"d":8.68,"u":6.0},{"d":8.7,"u":7.2},{"d":8.72,"u":6.3},{"d":8.74,"u":6.8},{"d":8.76,"u":5.8},{"d":8.78,"u":6.6},{"d":8.8,"u":6.0},{"d":8.82,"u":6.6},{"d":8.84,"u":5.5},{"d":8.86,"u":5.2},{"d":8.88,"u":4.8},{"d":8.9,"u":5.0},{"d":8.92,"u":4.4},{"d":8.94,"u":4.6},{"d":8.96,"u":4.0},{"d":8.98,"u":4.2},{"d":9.0,"u":3.8},{"d":9.02,"u":3.5},{"d":9.04,"u":3.9},{"d":9.06,"u":3.3},{"d":9.08,"u":3.6},{"d":9.1,"u":3.2},{"d":9.12,"u":3.5},{"d":9.14,"u":4.1},{"d":9.16,"u":4.0},{"d":9.18,"u":3.6},{"d":9.2,"u":3.0},{"d":9.22,"u":3.3},{"d":9.24,"u":2.7},{"d":9.26,"u":3.1},{"d":9.28,"u":2.5},{"d":9.3,"u":3.0},{"d":9.32,"u":2.4},{"d":9.34,"u":2.9},{"d":9.36,"u":2.2},{"d":9.38,"u":2.8},{"d":9.4,"u":5.6},{"d":9.42,"u":2.6},{"d":9.44,"u":3.1},{"d":9.46,"u":2.4},{"d":9.48,"u":2.9},{"d":9.5,"u":2.5},{"d":9.52,"u":3.0},{"d":9.54,"u":2.3},{"d":9.56,"u":2.8},{"d":9.58,"u":2.5},{"d":9.6,"u":3.1},{"d":9.62,"u":2.6},{"d":9.64,"u":3.2},{"d":9.66,"u":2.8},{"d":9.68,"u":4.2},{"d":9.7,"u":3.0},{"d":9.72,"u":2.6},{"d":9.74,"u":3.2},{"d":9.76,"u":2.7},{"d":9.78,"u":3.0},{"d":9.8,"u":2.4},{"d":9.82,"u":2.9},{"d":9.84,"u":2.5},{"d":9.86,"u":3.0},{"d":9.88,"u":2.3},{"d":9.9,"u":2.7},{"d":9.92,"u":2.2},{"d":9.94,"u":2.6},{"d":9.96,"u":1.8},{"d":9.98,"u":2.4},{"d":10.0,"u":1.5},{"d":10.02,"u":2.2},{"d":10.04,"u":1.6},{"d":10.06,"u":2.4},{"d":10.08,"u":1.9},{"d":10.1,"u":1.4},{"d":10.12,"u":2.0},{"d":10.14,"u":1.2},{"d":10.16,"u":2.8},{"d":10.18,"u":2.0},{"d":10.2,"u":1.4},{"d":10.22,"u":2.2},{"d":10.24,"u":6.2},{"d":10.26,"u":3.0},{"d":10.28,"u":4.0},{"d":10.3,"u":2.5},{"d":10.32,"u":3.6},{"d":10.34,"u":2.2},{"d":10.36,"u":2.8},{"d":10.37,"u":6.8},{"d":10.39,"u":2.0},{"d":10.4,"u":0.8},{"d":10.42,"u":3.2},{"d":10.44,"u":4.2},{"d":10.46,"u":3.0},{"d":10.48,"u":3.8},{"d":10.5,"u":2.4},{"d":10.52,"u":4.0},{"d":10.54,"u":2.8},{"d":10.56,"u":3.6},{"d":10.58,"u":2.0},{"d":10.6,"u":3.2},{"d":10.62,"u":2.6},{"d":10.64,"u":3.4},{"d":10.66,"u":2.4},{"d":10.68,"u":3.0},{"d":10.7,"u":2.2},{"d":10.72,"u":3.3},{"d":10.74,"u":4.4},{"d":10.76,"u":2.5},{"d":10.78,"u":1.8},{"d":10.8,"u":1.2},{"d":10.82,"u":0.8},{"d":10.84,"u":0.3},{"d":10.86,"u":1.4},{"d":10.88,"u":0.8},{"d":10.9,"u":2.2},{"d":10.92,"u":1.8},{"d":10.94,"u":3.2},{"d":10.96,"u":1.5},{"d":10.98,"u":4.5},{"d":11.0,"u":2.0},{"d":11.02,"u":0.3},{"d":11.04,"u":3.8},{"d":11.06,"u":1.2},{"d":11.08,"u":5.2},{"d":11.1,"u":2.5},{"d":11.12,"u":6.5},{"d":11.14,"u":3.0},{"d":11.16,"u":8.4},{"d":11.18,"u":5.0},{"d":11.2,"u":2.2},{"d":11.22,"u":6.0},{"d":11.24,"u":4.2},{"d":11.26,"u":8.8},{"d":11.28,"u":7.5},{"d":11.3,"u":8.2},{"d":11.32,"u":7.6},{"d":11.34,"u":8.0},{"d":11.36,"u":7.8},{"d":11.38,"u":8.3},{"d":11.4,"u":7.2},{"d":11.42,"u":7.5},{"d":11.44,"u":8.6},{"d":11.46,"u":7.8},{"d":11.48,"u":6.5},{"d":11.5,"u":5.8},{"d":11.52,"u":4.2},{"d":11.54,"u":3.5},{"d":11.56,"u":2.0},{"d":11.58,"u":2.6},{"d":11.6,"u":1.2},{"d":11.62,"u":1.8},{"d":11.64,"u":0.9},{"d":11.66,"u":2.5},{"d":11.68,"u":3.2},{"d":11.7,"u":4.0},{"d":11.72,"u":4.8},{"d":11.74,"u":5.5},{"d":11.76,"u":6.2},{"d":11.78,"u":6.8},{"d":11.8,"u":2.0},{"d":11.82,"u":5.8},{"d":11.84,"u":4.0},{"d":11.86,"u":0.3},{"d":11.88,"u":5.0},{"d":11.9,"u":8.2},{"d":11.92,"u":7.0},{"d":11.94,"u":6.2},{"d":11.96,"u":7.5},{"d":11.98,"u":6.8},{"d":12.0,"u":7.2},{"d":12.02,"u":6.5},{"d":12.04,"u":7.0},{"d":12.06,"u":6.2},{"d":12.08,"u":6.8},{"d":12.1,"u":6.0},{"d":12.12,"u":6.6},{"d":12.14,"u":5.6},{"d":12.16,"u":6.2},{"d":12.18,"u":5.0},{"d":12.2,"u":5.6},{"d":12.22,"u":4.6},{"d":12.24,"u":5.2},{"d":12.26,"u":4.8},{"d":12.28,"u":5.5},{"d":12.3,"u":9.6},{"d":12.32,"u":10.4},{"d":12.34,"u":9.2},{"d":12.36,"u":10.0},{"d":12.38,"u":10.6},{"d":12.4,"u":10.2},{"d":12.42,"u":11.0},{"d":12.44,"u":10.4},{"d":12.46,"u":9.6},{"d":12.48,"u":9.0},{"d":12.5,"u":8.6},{"d":12.52,"u":9.0},{"d":12.54,"u":8.4},{"d":12.56,"u":8.2},{"d":12.58,"u":7.9},{"d":12.6,"u":8.2},{"d":12.62,"u":7.6},{"d":12.64,"u":7.8},{"d":12.66,"u":7.2},{"d":12.68,"u":7.6},{"d":12.7,"u":6.8},{"d":12.72,"u":7.4},{"d":12.74,"u":6.5},{"d":12.76,"u":7.0},{"d":12.78,"u":6.0},{"d":12.8,"u":6.8},{"d":12.82,"u":5.8},{"d":12.84,"u":10.0},{"d":12.86,"u":4.2},{"d":12.88,"u":6.0},{"d":12.9,"u":7.0},{"d":12.92,"u":7.6},{"d":12.94,"u":8.0},{"d":12.96,"u":8.4},{"d":12.98,"u":8.0},{"d":13.0,"u":7.6},{"d":13.02,"u":7.0},{"d":13.04,"u":7.4},{"d":13.06,"u":6.6},{"d":13.08,"u":7.0},{"d":13.1,"u":6.2},{"d":13.12,"u":6.6},{"d":13.14,"u":5.8},{"d":13.16,"u":6.2},{"d":13.18,"u":5.4},{"d":13.2,"u":5.8},{"d":13.22,"u":5.2},{"d":13.24,"u":5.6},{"d":13.26,"u":4.9},{"d":13.28,"u":5.4},{"d":13.3,"u":4.8},{"d":13.32,"u":5.3},{"d":13.34,"u":5.0},{"d":13.36,"u":5.6},{"d":13.38,"u":5.1},{"d":13.4,"u":5.8},{"d":13.42,"u":5.2},{"d":13.44,"u":6.0},{"d":13.46,"u":5.3},{"d":13.48,"u":5.9},{"d":13.5,"u":5.2},{"d":13.52,"u":6.0},{"d":13.54,"u":5.4},{"d":13.56,"u":5.8},{"d":13.58,"u":5.3},{"d":13.6,"u":6.0},{"d":13.62,"u":5.4},{"d":13.64,"u":6.2},{"d":13.66,"u":5.6},{"d":13.68,"u":8.4},{"d":13.7,"u":6.0},{"d":13.72,"u":7.0},{"d":13.76,"u":6.5},{"d":13.8,"u":7.2},{"d":13.84,"u":6.0},{"d":13.88,"u":6.4},{"d":13.92,"u":5.0},{"d":13.96,"u":4.0},{"d":13.98,"u":3.0},{"d":14.0,"u":2.2},{"d":14.02,"u":4.5},{"d":14.04,"u":6.0},{"d":14.06,"u":4.0},{"d":14.08,"u":1.6},{"d":14.1,"u":3.5},{"d":14.12,"u":5.4},{"d":14.14,"u":6.2},{"d":14.16,"u":4.2},{"d":14.18,"u":2.8},{"d":14.2,"u":3.6},{"d":14.22,"u":2.0},{"d":14.24,"u":0.9},{"d":14.26,"u":2.5},{"d":14.28,"u":4.2},{"d":14.3,"u":5.2},{"d":14.32,"u":5.8},{"d":14.34,"u":5.4},{"d":14.36,"u":6.0},{"d":14.38,"u":5.6},{"d":14.4,"u":6.2},{"d":14.42,"u":5.8},{"d":14.44,"u":6.3},{"d":14.46,"u":5.9},{"d":14.48,"u":6.2},{"d":14.5,"u":5.7},{"d":14.52,"u":6.0},{"d":14.54,"u":5.5},{"d":14.56,"u":5.8},{"d":14.58,"u":5.3},{"d":14.6,"u":5.6},{"d":14.62,"u":5.0},{"d":14.64,"u":4.8},{"d":14.66,"u":4.4},{"d":14.68,"u":4.6},{"d":14.7,"u":4.0},{"d":14.72,"u":4.3},{"d":14.74,"u":3.8},{"d":14.78,"u":4.0},{"d":14.82,"u":3.4},{"d":14.86,"u":3.6},{"d":14.9,"u":2.8},{"d":14.92,"u":3.2},{"d":14.94,"u":7.5},{"d":14.96,"u":11.0},{"d":14.98,"u":9.0},{"d":15.0,"u":6.5},{"d":15.02,"u":2.8},{"d":15.04,"u":4.6},{"d":15.06,"u":2.2},{"d":15.08,"u":3.8},{"d":15.1,"u":5.0},{"d":15.12,"u":2.5},{"d":15.14,"u":4.2},{"d":15.16,"u":1.2},{"d":15.18,"u":3.2},{"d":15.2,"u":2.2},{"d":15.22,"u":3.8},{"d":15.24,"u":1.8},{"d":15.26,"u":3.5},{"d":15.28,"u":2.6},{"d":15.3,"u":4.0},{"d":15.32,"u":2.0},{"d":15.34,"u":3.4},{"d":15.36,"u":1.6},{"d":15.38,"u":3.0},{"d":15.4,"u":2.2},{"d":15.42,"u":3.6},{"d":15.44,"u":8.8},{"d":15.46,"u":3.0},{"d":15.48,"u":2.4},{"d":15.52,"u":1.8},{"d":15.56,"u":2.5},{"d":15.6,"u":1.6},{"d":15.64,"u":2.2},{"d":15.68,"u":3.0},{"d":15.72,"u":4.0},{"d":15.76,"u":5.0},{"d":15.8,"u":4.4},{"d":15.84,"u":6.0},{"d":15.86,"u":7.5},{"d":15.88,"u":5.5},{"d":15.9,"u":11.5},{"d":15.92,"u":8.0},{"d":15.94,"u":5.0},{"d":15.96,"u":7.0},{"d":15.98,"u":6.4},{"d":16.0,"u":7.8},{"d":16.02,"u":6.8},{"d":16.04,"u":8.2},{"d":16.06,"u":7.4},{"d":16.08,"u":8.8},{"d":16.1,"u":7.2},{"d":16.12,"u":12.6},{"d":16.14,"u":8.0},{"d":16.16,"u":7.6},{"d":16.18,"u":8.6},{"d":16.2,"u":7.8},{"d":16.22,"u":8.4},{"d":16.24,"u":6.5},{"d":16.26,"u":3.4},{"d":16.28,"u":6.2},{"d":16.3,"u":8.5},{"d":16.32,"u":11.0},{"d":16.34,"u":10.2},{"d":16.36,"u":10.8},{"d":16.38,"u":10.0},{"d":16.4,"u":10.6},{"d":16.42,"u":10.2},{"d":16.44,"u":10.8},{"d":16.46,"u":9.8},{"d":16.48,"u":10.5},{"d":16.5,"u":10.0},{"d":16.52,"u":10.6},{"d":16.54,"u":9.9},{"d":16.56,"u":10.4},{"d":16.58,"u":9.8},{"d":16.6,"u":10.3},{"d":16.62,"u":9.6},{"d":16.64,"u":9.2},{"d":16.66,"u":7.0},{"d":16.68,"u":5.0},{"d":16.7,"u":3.2},{"d":16.72,"u":4.5},{"d":16.74,"u":2.0},{"d":16.76,"u":3.8},{"d":16.78,"u":2.6},{"d":16.8,"u":1.2},{"d":16.82,"u":3.0},{"d":16.84,"u":1.8},{"d":16.86,"u":0.6},{"d":16.88,"u":2.5},{"d":16.9,"u":3.6},{"d":16.92,"u":2.8},{"d":16.94,"u":4.2},{"d":16.96,"u":3.4},{"d":16.98,"u":5.0},{"d":17.0,"u":4.2},{"d":17.02,"u":5.8},{"d":17.04,"u":4.6},{"d":17.06,"u":5.6},{"d":17.08,"u":4.8},{"d":17.1,"u":6.2},{"d":17.12,"u":7.2},{"d":17.14,"u":5.8},{"d":17.16,"u":6.6},{"d":17.18,"u":5.6},{"d":17.2,"u":7.0},{"d":17.22,"u":6.0},{"d":17.24,"u":7.4},{"d":17.26,"u":6.4},{"d":17.28,"u":7.8},{"d":17.3,"u":8.5},{"d":17.32,"u":7.6},{"d":17.34,"u":9.4},{"d":17.36,"u":10.2},{"d":17.38,"u":11.0},{"d":17.4,"u":10.0},{"d":17.42,"u":12.8},{"d":17.44,"u":11.2},{"d":17.46,"u":9.4},{"d":17.48,"u":10.4},{"d":17.5,"u":8.8},{"d":17.52,"u":10.8},{"d":17.54,"u":7.2},{"d":17.56,"u":8.5},{"d":17.58,"u":6.4},{"d":17.6,"u":5.0},{"d":17.62,"u":3.6},{"d":17.64,"u":2.2},{"d":17.66,"u":4.5},{"d":17.68,"u":2.8},{"d":17.7,"u":4.0},{"d":17.72,"u":3.0},{"d":17.74,"u":1.8},{"d":17.76,"u":3.6},{"d":17.78,"u":2.4},{"d":17.8,"u":5.5},{"d":17.82,"u":3.0},{"d":17.84,"u":1.0},{"d":17.86,"u":2.8},{"d":17.88,"u":1.8},{"d":17.9,"u":3.2},{"d":17.92,"u":1.6},{"d":17.94,"u":3.0},{"d":17.96,"u":1.5},{"d":17.98,"u":3.8},{"d":18.0,"u":5.5},{"d":18.02,"u":7.0},{"d":18.06,"u":8.4},{"d":18.1,"u":6.0}],
"windDots":[{"d":0.93,"u":1.0},{"d":0.94,"u":3.2},{"d":0.95,"u":6.0},{"d":0.955,"u":7.2},{"d":0.96,"u":5.0},{"d":0.97,"u":3.0},{"d":0.98,"u":2.5},{"d":0.99,"u":1.8},{"d":1.0,"u":1.2},{"d":1.01,"u":0.6},{"d":1.02,"u":0.3},{"d":1.03,"u":0.5},{"d":1.04,"u":1.0},{"d":1.05,"u":1.6},{"d":1.06,"u":2.2},{"d":1.07,"u":3.4},{"d":1.08,"u":4.5},{"d":1.09,"u":5.8},{"d":1.1,"u":7.2},{"d":1.11,"u":7.4},{"d":1.12,"u":5.5},{"d":1.13,"u":3.8},{"d":1.14,"u":2.6},{"d":1.15,"u":1.8},{"d":1.16,"u":2.4},{"d":1.17,"u":3.2},{"d":1.18,"u":2.0},{"d":1.19,"u":3.6},{"d":1.2,"u":2.5},{"d":1.21,"u":3.9},{"d":1.22,"u":2.2},{"d":1.23,"u":3.4},{"d":1.24,"u":2.8},{"d":2.28,"u":6.8},{"d":2.29,"u":6.0},{"d":2.3,"u":7.1},{"d":2.31,"u":5.5},{"d":2.32,"u":6.6},{"d":2.33,"u":5.2},{"d":2.34,"u":7.0},{"d":2.35,"u":6.2},{"d":2.36,"u":5.0},{"d":2.37,"u":6.5},{"d":2.38,"u":5.8},{"d":2.39,"u":6.4},{"d":2.98,"u":7.0},{"d":2.99,"u":7.6},{"d":3.0,"u":6.6},{"d":3.01,"u":7.8},{"d":3.02,"u":6.9},{"d":3.03,"u":7.4},{"d":3.04,"u":6.2},{"d":3.05,"u":7.2},{"d":3.06,"u":5.8},{"d":3.07,"u":6.8},{"d":3.08,"u":5.5},{"d":3.09,"u":7.0},{"d":3.1,"u":6.0},{"d":3.11,"u":8.4},{"d":3.12,"u":9.0},{"d":3.13,"u":9.9},{"d":3.14,"u":8.0},{"d":3.15,"u":6.5},{"d":3.16,"u":5.0},{"d":3.17,"u":7.0},{"d":3.18,"u":6.0},{"d":5.6,"u":7.9},{"d":5.61,"u":7.0},{"d":5.62,"u":6.0},{"d":5.63,"u":5.2},{"d":5.64,"u":4.8},{"d":5.65,"u":4.2},{"d":5.66,"u":3.8},{"d":5.67,"u":3.4},{"d":5.68,"u":3.0},{"d":5.69,"u":2.6},{"d":5.7,"u":2.4},{"d":5.71,"u":2.8},{"d":5.72,"u":2.3},{"d":5.73,"u":3.0},{"d":5.74,"u":2.6},{"d":5.75,"u":3.4},{"d":5.76,"u":2.8},{"d":5.77,"u":3.2},{"d":5.78,"u":2.5},{"d":5.79,"u":2.2},{"d":5.8,"u":2.0},{"d":5.81,"u":1.8},{"d":5.82,"u":3.0},{"d":5.83,"u":5.0},{"d":5.84,"u":6.0},{"d":8.3,"u":5.8},{"d":8.31,"u":6.6},{"d":8.32,"u":5.4},{"d":8.33,"u":6.2},{"d":8.34,"u":5.3},{"d":8.35,"u":6.0},{"d":8.36,"u":6.6},{"d":8.37,"u":6.1},{"d":8.38,"u":6.8},{"d":8.4,"u":6.5},{"d":8.42,"u":6.7},{"d":8.44,"u":6.6},{"d":8.46,"u":6.5},{"d":8.48,"u":6.4},{"d":8.5,"u":6.4},{"d":8.52,"u":6.3},{"d":8.54,"u":6.3},{"d":8.56,"u":6.2},{"d":8.58,"u":6.2},{"d":8.6,"u":6.1},{"d":8.62,"u":6.6},{"d":8.63,"u":7.2},{"d":8.64,"u":6.0},{"d":8.65,"u":7.0},{"d":8.66,"u":6.4},{"d":8.67,"u":6.8},{"d":8.68,"u":5.8},{"d":8.7,"u":6.6},{"d":8.72,"u":6.0},{"d":8.74,"u":6.4},{"d":8.76,"u":5.8},{"d":8.78,"u":6.3},{"d":9.13,"u":4.2},{"d":9.14,"u":3.6},{"d":9.15,"u":4.4},{"d":9.16,"u":3.4},{"d":9.17,"u":4.0},{"d":9.18,"u":3.5},{"d":9.19,"u":3.9},{"d":9.2,"u":3.3},{"d":10.92,"u":2.5},{"d":10.93,"u":1.2},{"d":10.94,"u":3.5},{"d":10.95,"u":1.0},{"d":10.96,"u":4.8},{"d":10.97,"u":2.0},{"d":10.98,"u":0.5},{"d":10.99,"u":3.0},{"d":11.0,"u":1.5},{"d":11.01,"u":4.2},{"d":11.02,"u":0.3},{"d":11.03,"u":2.5},{"d":11.04,"u":1.0},{"d":11.05,"u":3.8},{"d":11.06,"u":5.2},{"d":11.07,"u":2.8},{"d":11.08,"u":6.2},{"d":11.09,"u":4.0},{"d":11.1,"u":1.5},{"d":11.11,"u":0.3},{"d":11.12,"u":2.2},{"d":11.13,"u":0.8},{"d":11.14,"u":3.5},{"d":11.15,"u":1.4},{"d":11.16,"u":0.3},{"d":11.17,"u":2.8},{"d":11.18,"u":5.6},{"d":11.19,"u":7.5},{"d":11.2,"u":8.5},{"d":11.21,"u":6.0},{"d":11.22,"u":3.0},{"d":11.23,"u":1.6},{"d":11.24,"u":4.5},{"d":11.25,"u":2.5},{"d":11.26,"u":6.5},{"d":11.27,"u":8.0},{"d":11.28,"u":5.0},{"d":11.29,"u":2.0},{"d":11.3,"u":4.0},{"d":11.31,"u":1.5},{"d":11.32,"u":6.0},{"d":11.33,"u":8.8},{"d":11.34,"u":8.2},{"d":11.35,"u":7.4},{"d":11.36,"u":8.0},{"d":11.37,"u":7.0},{"d":11.38,"u":7.6},{"d":11.39,"u":6.8},{"d":11.4,"u":7.2},{"d":11.86,"u":0.3},{"d":11.87,"u":1.0},{"d":11.875,"u":2.5},{"d":11.88,"u":4.0},{"d":11.885,"u":5.5},{"d":11.89,"u":7.0},{"d":11.895,"u":8.4},{"d":11.9,"u":7.8},{"d":11.91,"u":7.0},{"d":11.92,"u":6.6},{"d":11.93,"u":7.2},{"d":11.94,"u":6.2},{"d":11.95,"u":6.8},{"d":11.96,"u":7.4},{"d":11.97,"u":6.6},{"d":11.98,"u":7.0},{"d":13.72,"u":7.0},{"d":13.73,"u":6.2},{"d":13.74,"u":7.4},{"d":13.75,"u":5.8},{"d":13.76,"u":8.0},{"d":13.77,"u":6.8},{"d":13.78,"u":5.2},{"d":13.79,"u":7.6},{"d":13.8,"u":6.4},{"d":13.81,"u":4.6},{"d":13.82,"u":7.2},{"d":13.83,"u":6.0},{"d":13.84,"u":5.4},{"d":13.85,"u":7.8},{"d":13.86,"u":6.6},{"d":13.87,"u":5.0},{"d":13.88,"u":7.4},{"d":13.89,"u":6.2},{"d":13.9,"u":7.6},{"d":13.91,"u":5.6},{"d":13.92,"u":6.8},{"d":13.93,"u":5.2},{"d":13.94,"u":6.4},{"d":13.95,"u":4.8},{"d":13.96,"u":5.8},{"d":13.97,"u":4.0},{"d":13.98,"u":3.2},{"d":13.99,"u":2.6},{"d":14.0,"u":2.2},{"d":14.74,"u":4.6},{"d":14.76,"u":4.0},{"d":14.78,"u":4.4},{"d":14.8,"u":3.6},{"d":14.82,"u":4.2},{"d":14.84,"u":3.2},{"d":14.86,"u":3.8},{"d":14.88,"u":3.0},{"d":14.89,"u":3.4},{"d":14.9,"u":2.8},{"d":14.91,"u":3.2},{"d":14.93,"u":5.0},{"d":14.94,"u":7.0},{"d":14.945,"u":8.5},{"d":14.95,"u":9.5},{"d":14.955,"u":10.4},{"d":14.96,"u":11.0},{"d":14.965,"u":10.0},{"d":14.97,"u":9.0},{"d":14.975,"u":8.2},{"d":14.98,"u":7.0},{"d":15.48,"u":2.8},{"d":15.5,"u":2.2},{"d":15.51,"u":3.0},{"d":15.52,"u":1.8},{"d":15.53,"u":2.5},{"d":15.54,"u":1.6},{"d":15.55,"u":2.2},{"d":15.56,"u":1.4},{"d":15.57,"u":2.4},{"d":15.58,"u":1.8},{"d":15.59,"u":2.6},{"d":15.6,"u":2.0},{"d":15.61,"u":2.8},{"d":15.62,"u":2.2},{"d":15.63,"u":3.0},{"d":15.64,"u":2.4},{"d":15.65,"u":3.5},{"d":15.66,"u":4.2},{"d":15.67,"u":3.4},{"d":15.68,"u":4.8},{"d":15.69,"u":3.8},{"d":15.7,"u":5.0},{"d":15.71,"u":4.2},{"d":15.72,"u":5.2},{"d":15.73,"u":4.4},{"d":15.74,"u":3.6},{"d":15.75,"u":5.6},{"d":15.76,"u":4.6},{"d":15.77,"u":6.4},{"d":15.78,"u":5.2},{"d":15.79,"u":7.0},{"d":15.8,"u":5.8},{"d":15.81,"u":6.6},{"d":15.82,"u":5.4},{"d":15.83,"u":7.2},{"d":15.84,"u":6.0},{"d":15.85,"u":4.5},{"d":15.86,"u":2.4},{"d":15.87,"u":5.0},{"d":15.875,"u":7.5},{"d":15.88,"u":9.0},{"d":15.885,"u":10.5},{"d":15.89,"u":11.5},{"d":15.895,"u":10.0},{"d":15.9,"u":8.5},{"d":15.905,"u":7.0},{"d":15.91,"u":6.0},{"d":17.1,"u":6.5},{"d":17.11,"u":7.2},{"d":17.12,"u":6.0},{"d":18.03,"u":5.8},{"d":18.04,"u":7.0},{"d":18.05,"u":8.2},{"d":18.06,"u":9.2},{"d":18.07,"u":8.6},{"d":18.08,"u":7.8},{"d":18.09,"u":6.8},{"d":18.1,"u":6.0}],
"salRange":[{"d":0.92,"lo":4e-5,"hi":1.5},{"d":0.94,"lo":3.6e-5,"hi":0.6},{"d":0.96,"lo":3.6e-5,"hi":0.3},{"d":0.98,"lo":3.6e-5,"hi":0.5},{"d":1.0,"lo":3.6e-5,"hi":0.9},{"d":1.02,"lo":3.6e-5,"hi":0.4},{"d":1.04,"lo":3.6e-5,"hi":0.25},{"d":1.06,"lo":3.6e-5,"hi":0.2},{"d":1.08,"lo":4e-5,"hi":0.05},{"d":1.12,"lo":3.6e-5,"hi":0.1},{"d":1.14,"lo":3.6e-5,"hi":0.3},{"d":1.16,"lo":3.6e-5,"hi":0.2},{"d":1.18,"lo":3.6e-5,"hi":0.25},{"d":1.2,"lo":3.6e-5,"hi":2.0},{"d":1.22,"lo":3.6e-5,"hi":0.15},
{"d":2.08,"lo":2e-5,"hi":0.2},{"d":2.1,"lo":1.8e-5,"hi":0.28},{"d":2.12,"lo":2e-5,"hi":0.12},{"d":2.14,"lo":1.5e-5,"hi":0.05},{"d":2.16,"lo":2.5e-5,"hi":0.06},{"d":2.18,"lo":1.8e-5,"hi":0.18},{"d":2.2,"lo":2e-5,"hi":0.08},{"d":2.22,"lo":1.5e-5,"hi":0.06},{"d":2.24,"lo":2.5e-5,"hi":0.1},{"d":2.26,"lo":1.6e-5,"hi":0.07},{"d":2.28,"lo":2e-5,"hi":0.05},{"d":2.3,"lo":1.4e-5,"hi":0.08},{"d":2.32,"lo":2e-5,"hi":0.06},{"d":2.34,"lo":1.5e-5,"hi":0.1},{"d":2.36,"lo":1.3e-5,"hi":0.15},{"d":2.38,"lo":1.8e-5,"hi":0.06},
{"d":2.97,"lo":2.5e-5,"hi":10},{"d":2.99,"lo":2.5e-5,"hi":0.03},{"d":3.01,"lo":2.5e-5,"hi":0.04},{"d":3.03,"lo":2.5e-5,"hi":0.035},{"d":3.05,"lo":2.5e-5,"hi":0.045},{"d":3.07,"lo":2.5e-5,"hi":0.04},{"d":3.09,"lo":2.5e-5,"hi":0.05},{"d":3.11,"lo":2.5e-5,"hi":0.04},{"d":3.13,"lo":2.5e-5,"hi":0.06},{"d":3.15,"lo":2.5e-5,"hi":0.05},{"d":3.17,"lo":2.5e-5,"hi":0.04},{"d":3.19,"lo":2.5e-5,"hi":0.5},
{"d":5.59,"lo":1.5e-5,"hi":0.3},{"d":5.61,"lo":1.5e-5,"hi":0.2},{"d":5.63,"lo":1.5e-5,"hi":0.1},{"d":5.65,"lo":1.5e-5,"hi":0.06},{"d":5.67,"lo":1.5e-5,"hi":0.05},{"d":5.69,"lo":1.5e-5,"hi":0.04},{"d":5.71,"lo":1.5e-5,"hi":0.05},{"d":5.73,"lo":1.5e-5,"hi":0.03},{"d":5.75,"lo":1.5e-5,"hi":0.04},{"d":5.77,"lo":1.5e-5,"hi":0.05},{"d":5.79,"lo":1.5e-5,"hi":0.04},{"d":5.81,"lo":1.5e-5,"hi":0.06},{"d":5.83,"lo":1.5e-5,"hi":0.05},{"d":5.85,"lo":1.5e-5,"hi":10},
{"d":8.3,"lo":1e-5,"hi":0.06},{"d":8.32,"lo":1.5e-5,"hi":0.07},{"d":8.34,"lo":1e-5,"hi":0.05},{"d":8.36,"lo":2e-5,"hi":0.5},{"d":8.38,"lo":1e-5,"hi":0.08},{"d":8.4,"lo":1.5e-5,"hi":0.06},{"d":8.42,"lo":1e-5,"hi":0.09},{"d":8.44,"lo":2e-5,"hi":0.07},{"d":8.46,"lo":1e-5,"hi":0.1},{"d":8.48,"lo":1.5e-5,"hi":0.08},{"d":8.5,"lo":1e-5,"hi":0.06},{"d":8.52,"lo":2e-5,"hi":0.09},{"d":8.54,"lo":1e-5,"hi":0.12},{"d":8.56,"lo":1.5e-5,"hi":0.1},{"d":8.58,"lo":1e-5,"hi":0.5},{"d":8.6,"lo":2e-5,"hi":0.1},{"d":8.62,"lo":1e-5,"hi":0.13},{"d":8.64,"lo":1.5e-5,"hi":0.09},{"d":8.66,"lo":1e-5,"hi":0.12},{"d":8.68,"lo":2e-5,"hi":0.1},{"d":8.7,"lo":1.2e-5,"hi":0.11},{"d":8.72,"lo":2e-5,"hi":0.08},
{"d":10.95,"lo":1.5e-5,"hi":0.06},{"d":10.97,"lo":2e-5,"hi":0.09},{"d":10.99,"lo":1.2e-5,"hi":0.07},{"d":11.01,"lo":2e-5,"hi":0.1},{"d":11.03,"lo":1e-5,"hi":0.08},{"d":11.05,"lo":2e-5,"hi":0.11},{"d":11.07,"lo":1.5e-5,"hi":0.09},{"d":11.09,"lo":2e-5,"hi":0.1},{"d":11.11,"lo":1e-5,"hi":0.08},{"d":11.13,"lo":2e-5,"hi":0.12},{"d":11.15,"lo":1.5e-5,"hi":0.09},{"d":11.17,"lo":2e-5,"hi":0.1},{"d":11.19,"lo":1e-5,"hi":0.08},{"d":11.21,"lo":2e-5,"hi":0.1},{"d":11.23,"lo":1.5e-5,"hi":0.09},{"d":11.25,"lo":2e-5,"hi":0.12},{"d":11.27,"lo":1e-5,"hi":0.1},{"d":11.29,"lo":2e-5,"hi":0.08},{"d":11.31,"lo":1.5e-5,"hi":0.1},{"d":11.33,"lo":2e-5,"hi":0.09},{"d":11.35,"lo":1e-5,"hi":0.11},{"d":11.37,"lo":2e-5,"hi":0.08},{"d":11.39,"lo":1.5e-5,"hi":0.1},{"d":11.41,"lo":2e-5,"hi":0.09},
{"d":11.86,"lo":0.05,"hi":8},{"d":11.97,"lo":2e-5,"hi":0.01},{"d":11.99,"lo":3e-5,"hi":0.005},
{"d":13.5,"lo":1e-5,"hi":9},{"d":13.52,"lo":3e-5,"hi":0.04},{"d":13.54,"lo":1e-5,"hi":0.05},{"d":13.56,"lo":3e-5,"hi":0.035},{"d":13.58,"lo":3e-5,"hi":0.06},{"d":13.6,"lo":1e-5,"hi":0.045},{"d":13.62,"lo":3e-5,"hi":0.07},{"d":13.64,"lo":3e-5,"hi":0.04},{"d":13.66,"lo":1e-5,"hi":0.05},{"d":13.68,"lo":3e-5,"hi":0.04},{"d":13.7,"lo":3e-5,"hi":0.03},{"d":13.72,"lo":1e-5,"hi":0.04},{"d":13.74,"lo":3e-5,"hi":0.05},{"d":13.76,"lo":1e-5,"hi":0.07},{"d":13.78,"lo":3e-5,"hi":0.04},{"d":13.8,"lo":1e-5,"hi":0.06},{"d":13.82,"lo":3e-5,"hi":0.05},{"d":13.84,"lo":1e-5,"hi":0.07},{"d":13.86,"lo":3e-5,"hi":0.05},{"d":13.88,"lo":1e-5,"hi":0.06},{"d":13.9,"lo":3e-5,"hi":0.04},{"d":13.92,"lo":1e-5,"hi":0.06},{"d":13.94,"lo":3e-5,"hi":0.05},{"d":13.96,"lo":1e-5,"hi":0.07},{"d":13.98,"lo":3e-5,"hi":0.05},
{"d":14.5,"lo":1e-5,"hi":10},{"d":14.52,"lo":2e-5,"hi":0.05},{"d":14.54,"lo":2e-5,"hi":0.045},{"d":14.56,"lo":2e-5,"hi":0.05},{"d":14.58,"lo":2e-5,"hi":0.06},{"d":14.6,"lo":2e-5,"hi":0.045},{"d":14.62,"lo":2e-5,"hi":0.05},{"d":14.64,"lo":2e-5,"hi":0.055},{"d":14.66,"lo":2e-5,"hi":0.1},{"d":14.68,"lo":2e-5,"hi":0.09},{"d":14.7,"lo":2e-5,"hi":0.11},{"d":14.72,"lo":2e-5,"hi":0.1},{"d":14.74,"lo":2e-5,"hi":0.16},{"d":14.76,"lo":2e-5,"hi":0.12},{"d":14.78,"lo":2e-5,"hi":0.2},{"d":14.8,"lo":2e-5,"hi":0.13},{"d":14.82,"lo":2e-5,"hi":0.18},{"d":14.84,"lo":2e-5,"hi":0.12},{"d":14.86,"lo":2e-5,"hi":0.15},{"d":14.88,"lo":2e-5,"hi":0.2},{"d":14.9,"lo":2e-5,"hi":0.14},{"d":14.92,"lo":2e-5,"hi":0.16},{"d":14.94,"lo":2e-5,"hi":0.15},{"d":14.96,"lo":2e-5,"hi":0.2},{"d":14.98,"lo":2e-5,"hi":0.18},{"d":15.0,"lo":2e-5,"hi":0.5},
{"d":15.52,"lo":1e-5,"hi":10},{"d":15.54,"lo":3e-5,"hi":0.08},{"d":15.56,"lo":1e-5,"hi":0.07},{"d":15.58,"lo":3e-5,"hi":0.09},{"d":15.6,"lo":3e-5,"hi":0.06},{"d":15.62,"lo":1e-5,"hi":0.08},{"d":15.64,"lo":3e-5,"hi":0.07},{"d":15.66,"lo":3e-5,"hi":0.09},{"d":15.68,"lo":1e-5,"hi":0.07},{"d":15.7,"lo":3e-5,"hi":0.08},{"d":15.72,"lo":3e-5,"hi":0.06},{"d":15.74,"lo":1e-5,"hi":0.08},{"d":15.76,"lo":3e-5,"hi":0.07},{"d":15.78,"lo":3e-5,"hi":0.09},{"d":15.8,"lo":1e-5,"hi":0.08},{"d":15.82,"lo":3e-5,"hi":0.1},{"d":15.84,"lo":3e-5,"hi":0.08},{"d":15.86,"lo":1e-5,"hi":0.09},{"d":15.88,"lo":3e-5,"hi":0.07},{"d":15.9,"lo":3e-5,"hi":0.08},
{"d":16.77,"lo":0.01,"hi":10},{"d":16.78,"lo":0.002,"hi":0.15},{"d":16.79,"lo":1e-4,"hi":0.1},{"d":16.8,"lo":3e-5,"hi":0.02},{"d":16.81,"lo":1e-5,"hi":0.005},{"d":16.82,"lo":1e-5,"hi":0.001},{"d":16.83,"lo":1e-5,"hi":1e-4},
{"d":17.64,"lo":1e-5,"hi":10},{"d":17.66,"lo":3e-4,"hi":0.15},{"d":17.68,"lo":1e-4,"hi":0.25},{"d":17.7,"lo":5e-4,"hi":0.1},{"d":17.72,"lo":5e-5,"hi":0.2},{"d":17.74,"lo":2e-4,"hi":0.12},{"d":17.76,"lo":3e-5,"hi":0.28},{"d":17.78,"lo":1e-4,"hi":0.15},{"d":17.8,"lo":2e-5,"hi":0.2},{"d":17.82,"lo":2e-4,"hi":0.3},{"d":17.84,"lo":5e-5,"hi":0.18},{"d":17.86,"lo":1e-4,"hi":0.25},{"d":17.88,"lo":1e-5,"hi":0.4},{"d":17.9,"lo":1e-4,"hi":0.6},{"d":17.92,"lo":3e-5,"hi":0.8},{"d":17.94,"lo":1e-5,"hi":1.0},{"d":17.96,"lo":2e-5,"hi":0.9},{"d":17.98,"lo":1e-5,"hi":0.7},{"d":18.0,"lo":3e-5,"hi":0.5},{"d":18.02,"lo":1e-5,"hi":0.3},{"d":18.04,"lo":3e-5,"hi":0.1},{"d":18.06,"lo":1e-5,"hi":0.1},{"d":18.08,"lo":1e-5,"hi":0.05},{"d":18.1,"lo":1e-5,"hi":0.02}],
"salDots":[{"d":0.93,"s":0.8},{"d":0.935,"s":0.3},{"d":0.94,"s":0.12},{"d":0.945,"s":0.05},{"d":0.95,"s":0.5},{"d":0.955,"s":0.02},{"d":0.96,"s":0.2},{"d":0.965,"s":0.008},{"d":0.97,"s":0.08},{"d":0.975,"s":0.35},{"d":0.98,"s":0.03},{"d":0.985,"s":0.004},{"d":0.99,"s":0.15},{"d":0.995,"s":0.6},{"d":1.0,"s":0.06},{"d":1.005,"s":0.012},{"d":1.01,"s":0.25},{"d":1.015,"s":0.0015},{"d":1.02,"s":0.9},{"d":1.025,"s":0.1},{"d":1.03,"s":0.04},{"d":1.035,"s":1.1},{"d":1.04,"s":0.2},{"d":1.045,"s":0.003},{"d":1.05,"s":0.7},{"d":1.055,"s":0.015},{"d":1.06,"s":0.4},{"d":1.065,"s":0.08},{"d":1.07,"s":1.2},{"d":1.075,"s":0.03},{"d":1.08,"s":0.5},{"d":1.02,"s":0.00017},{"d":1.1,"s":0.0003},{"d":1.12,"s":0.3},{"d":1.125,"s":0.05},{"d":1.13,"s":0.15},{"d":1.135,"s":0.01},{"d":1.14,"s":0.4},{"d":1.145,"s":0.02},{"d":1.15,"s":0.1},{"d":1.155,"s":0.6},{"d":1.16,"s":0.005},{"d":1.165,"s":0.25},{"d":1.17,"s":0.04},{"d":1.175,"s":0.0015},{"d":1.18,"s":0.12},{"d":1.185,"s":0.5},{"d":1.19,"s":0.07},{"d":1.2,"s":0.02},{"d":1.21,"s":0.3},{"d":1.22,"s":0.9},
{"d":2.3,"s":0.03},{"d":2.305,"s":0.01},{"d":2.31,"s":0.02},{"d":2.315,"s":0.005},{"d":2.32,"s":0.015},{"d":2.325,"s":0.008},{"d":2.33,"s":0.025},{"d":2.335,"s":0.004},{"d":2.34,"s":0.012},{"d":2.345,"s":0.006},{"d":2.35,"s":0.02},{"d":2.355,"s":0.003},{"d":2.36,"s":0.01},{"d":2.365,"s":0.0015},{"d":2.37,"s":0.007},{"d":2.375,"s":0.0003},{"d":2.38,"s":0.004},{"d":2.385,"s":0.012},
{"d":2.98,"s":0.03},{"d":2.99,"s":0.008},{"d":3.0,"s":0.015},{"d":3.01,"s":0.004},{"d":3.02,"s":0.02},{"d":3.03,"s":0.006},{"d":3.04,"s":0.05},{"d":3.05,"s":0.012},{"d":3.06,"s":0.003},{"d":3.07,"s":0.025},{"d":3.08,"s":0.009},{"d":3.09,"s":0.0015},{"d":3.1,"s":0.018},{"d":3.11,"s":0.005},{"d":3.12,"s":0.0008},{"d":3.13,"s":0.03},{"d":3.14,"s":0.01},{"d":3.15,"s":0.004},{"d":3.16,"s":0.06},{"d":3.17,"s":0.015},{"d":3.18,"s":0.002},{"d":3.19,"s":0.008},{"d":3.05,"s":0.0005},{"d":3.13,"s":0.0002},{"d":3.09,"s":0.0004},
{"d":5.62,"s":0.1},{"d":5.63,"s":0.04},{"d":5.64,"s":0.015},{"d":5.65,"s":0.06},{"d":5.66,"s":0.006},{"d":5.67,"s":0.03},{"d":5.68,"s":0.01},{"d":5.69,"s":0.0025},{"d":5.7,"s":0.05},{"d":5.71,"s":0.02},{"d":5.72,"s":0.004},{"d":5.73,"s":0.008},{"d":5.74,"s":0.03},{"d":5.75,"s":0.001},{"d":5.76,"s":0.015},{"d":5.77,"s":0.003},{"d":5.78,"s":0.02},{"d":5.79,"s":0.007},{"d":5.8,"s":0.0004},{"d":5.81,"s":0.012},{"d":5.82,"s":0.005},{"d":5.83,"s":0.02},{"d":5.84,"s":0.04},{"d":5.85,"s":0.009},{"d":5.66,"s":4e-5},{"d":5.72,"s":0.0002},
{"d":8.3,"s":0.05},{"d":8.31,"s":0.01},{"d":8.32,"s":0.03},{"d":8.325,"s":0.004},{"d":8.33,"s":0.06},{"d":8.34,"s":0.015},{"d":8.35,"s":0.002},{"d":8.36,"s":0.04},{"d":8.37,"s":0.008},{"d":8.38,"s":0.025},{"d":8.39,"s":0.0008},{"d":8.4,"s":0.05},{"d":8.41,"s":0.012},{"d":8.42,"s":0.003},{"d":8.43,"s":0.035},{"d":8.44,"s":0.007},{"d":8.45,"s":0.02},{"d":8.46,"s":0.0015},{"d":8.47,"s":0.045},{"d":8.48,"s":0.01},{"d":8.49,"s":0.03},{"d":8.5,"s":0.005},{"d":8.51,"s":0.06},{"d":8.52,"s":0.015},{"d":8.53,"s":0.0025},{"d":8.54,"s":0.04},{"d":8.55,"s":0.008},{"d":8.56,"s":0.02},{"d":8.57,"s":0.0006},{"d":8.58,"s":0.05},{"d":8.59,"s":0.012},{"d":8.6,"s":0.03},{"d":8.61,"s":0.004},{"d":8.62,"s":0.06},{"d":8.63,"s":0.018},{"d":8.64,"s":0.0015},{"d":8.65,"s":0.04},{"d":8.66,"s":0.009},{"d":8.67,"s":0.025},{"d":8.68,"s":0.003},{"d":8.69,"s":0.05},{"d":8.7,"s":0.015},{"d":8.71,"s":0.035},{"d":8.33,"s":3e-5},{"d":8.35,"s":1e-4},{"d":8.38,"s":0.00025},{"d":8.5,"s":0.0004},{"d":8.66,"s":0.0002},
{"d":10.95,"s":0.04},{"d":10.96,"s":0.01},{"d":10.97,"s":0.025},{"d":10.98,"s":0.004},{"d":10.99,"s":0.05},{"d":11.0,"s":0.012},{"d":11.01,"s":0.03},{"d":11.02,"s":0.002},{"d":11.03,"s":0.06},{"d":11.04,"s":0.015},{"d":11.05,"s":0.035},{"d":11.06,"s":0.006},{"d":11.07,"s":0.05},{"d":11.08,"s":0.02},{"d":11.09,"s":0.1},{"d":11.1,"s":0.3},{"d":11.11,"s":0.04},{"d":11.12,"s":0.008},{"d":11.13,"s":0.06},{"d":11.14,"s":0.02},{"d":11.15,"s":0.2},{"d":11.16,"s":0.6},{"d":11.17,"s":1.2},{"d":11.18,"s":1.9},{"d":11.19,"s":0.5},{"d":11.2,"s":0.05},{"d":11.21,"s":0.015},{"d":11.22,"s":0.03},{"d":11.23,"s":0.15},{"d":11.24,"s":0.5},{"d":11.25,"s":1.1},{"d":11.26,"s":0.3},{"d":11.27,"s":0.06},{"d":11.28,"s":0.02},{"d":11.29,"s":0.004},{"d":11.3,"s":0.045},{"d":11.31,"s":0.01},{"d":11.32,"s":0.03},{"d":11.33,"s":0.002},{"d":11.34,"s":0.05},{"d":11.35,"s":0.015},{"d":11.36,"s":0.035},{"d":11.37,"s":0.0008},{"d":11.38,"s":0.04},{"d":11.39,"s":0.012},{"d":11.4,"s":0.03},{"d":11.08,"s":3e-5},{"d":11.13,"s":0.0004},{"d":11.22,"s":0.0006},{"d":11.35,"s":0.0003},
{"d":11.86,"s":8},{"d":11.865,"s":11},{"d":11.87,"s":6},{"d":11.875,"s":3.5},{"d":11.88,"s":2.0},{"d":11.885,"s":1.2},{"d":11.89,"s":0.6},{"d":11.895,"s":0.35},{"d":11.9,"s":0.2},{"d":11.91,"s":0.12},{"d":11.92,"s":0.07},{"d":11.93,"s":0.04},{"d":11.94,"s":0.02},{"d":11.95,"s":0.01},{"d":11.96,"s":0.006},{"d":11.97,"s":0.004},{"d":11.98,"s":0.003},{"d":11.98,"s":0.0003},
{"d":13.75,"s":0.02},{"d":13.76,"s":0.005},{"d":13.77,"s":0.012},{"d":13.78,"s":0.03},{"d":13.79,"s":0.002},{"d":13.8,"s":0.008},{"d":13.81,"s":0.018},{"d":13.82,"s":0.0035},{"d":13.83,"s":0.025},{"d":13.84,"s":0.0012},{"d":13.85,"s":0.01},{"d":13.86,"s":0.015},{"d":13.87,"s":0.004},{"d":13.88,"s":0.022},{"d":13.89,"s":0.006},{"d":13.9,"s":0.0008},{"d":13.91,"s":0.014},{"d":13.92,"s":0.003},{"d":13.93,"s":0.02},{"d":13.94,"s":0.009},{"d":13.95,"s":0.0015},{"d":13.96,"s":0.012},{"d":13.97,"s":0.0005},{"d":13.98,"s":0.006},{"d":13.76,"s":3e-5},{"d":13.78,"s":4e-5},{"d":13.83,"s":0.0002},{"d":13.92,"s":0.0001},{"d":13.96,"s":0.0003},
{"d":14.78,"s":0.015},{"d":14.79,"s":0.004},{"d":14.8,"s":0.03},{"d":14.81,"s":0.0015},{"d":14.82,"s":0.012},{"d":14.83,"s":0.05},{"d":14.84,"s":0.006},{"d":14.85,"s":0.02},{"d":14.86,"s":0.0006},{"d":14.87,"s":0.04},{"d":14.88,"s":0.01},{"d":14.89,"s":0.025},{"d":14.9,"s":0.003},{"d":14.91,"s":0.06},{"d":14.92,"s":0.015},{"d":14.93,"s":0.1},{"d":14.94,"s":0.035},{"d":14.95,"s":0.008},{"d":14.96,"s":0.05},{"d":14.97,"s":0.002},{"d":14.98,"s":0.02},{"d":14.99,"s":0.15},{"d":15.0,"s":1.5},{"d":15.005,"s":2.5},{"d":15.003,"s":0.8},{"d":14.84,"s":0.0003},
{"d":15.53,"s":0.5},{"d":15.53,"s":0.3},{"d":15.535,"s":0.2},{"d":15.535,"s":0.12},{"d":15.54,"s":0.07},{"d":15.55,"s":0.03},{"d":15.56,"s":0.01},{"d":15.57,"s":0.05},{"d":15.58,"s":0.004},{"d":15.59,"s":0.02},{"d":15.6,"s":0.06},{"d":15.61,"s":0.008},{"d":15.62,"s":0.03},{"d":15.63,"s":0.002},{"d":15.64,"s":0.045},{"d":15.65,"s":0.012},{"d":15.66,"s":0.025},{"d":15.67,"s":0.005},{"d":15.68,"s":0.05},{"d":15.69,"s":0.015},{"d":15.7,"s":0.035},{"d":15.71,"s":0.0015},{"d":15.72,"s":0.06},{"d":15.73,"s":0.02},{"d":15.74,"s":0.008},{"d":15.75,"s":0.04},{"d":15.76,"s":0.1},{"d":15.77,"s":0.12},{"d":15.78,"s":0.03},{"d":15.79,"s":0.006},{"d":15.8,"s":0.05},{"d":15.81,"s":0.015},{"d":15.82,"s":0.035},{"d":15.83,"s":0.003},{"d":15.84,"s":0.055},{"d":15.85,"s":0.02},{"d":15.86,"s":0.04},{"d":15.87,"s":0.009},{"d":15.88,"s":0.06},{"d":15.89,"s":0.025},{"d":15.6,"s":0.0004},{"d":15.63,"s":0.0003},{"d":15.75,"s":0.0002},{"d":15.83,"s":2e-5},
{"d":18.03,"s":0.2},{"d":18.035,"s":0.12},{"d":18.04,"s":0.07},{"d":18.045,"s":0.04},{"d":18.05,"s":0.025},{"d":18.055,"s":0.015},{"d":18.06,"s":0.008},{"d":18.065,"s":0.005},{"d":18.07,"s":0.003},{"d":18.075,"s":0.0015},{"d":18.08,"s":0.05},{"d":18.09,"s":0.02}]
},
"vconcat":[
{
 "width":1565,"height":250,
 "resolve":{"axis":{"x":"independent","y":"independent"}},
 "layer":[
  {"data":{"name":"rain"},"mark":{"type":"line","color":"#0072BD","strokeWidth":1.8},
   "encoding":{
    "x":{"field":"d","type":"quantitative","scale":{"domain":[0.905,18.008],"nice":false,"zero":false},
     "axis":{"orient":"bottom","values":[2,4,6,8,10,12,14,16,18],"labelExpr":"'09/' + (datum.value < 10 ? '0' : '') + datum.value","grid":true,"title":null,"labelPadding":31,"labelFlush":false,"labelOverlap":false}},
    "y":{"field":"r","type":"quantitative","scale":{"type":"log","domain":[0.001,12.4],"nice":false},
     "axis":{"orient":"left","values":[1],"labelExpr":"'10⁰'","grid":true,"title":"rain rate [mm hr⁻¹]","titleX":-68,"titleY":125,"titleAngle":270,"titleAlign":"center","titleBaseline":"alphabetic","labelPadding":27,"labelOffset":4}}}},
  {"data":{"name":"noPrecip"},"mark":{"type":"point","filled":true,"color":"#D95319","size":34,"opacity":1},
   "encoding":{"x":{"field":"d","type":"quantitative","axis":null},"y":{"datum":0.003,"type":"quantitative","axis":null}}},
  {"data":{"name":"rainDots"},"mark":{"type":"point","filled":true,"color":"#FF00FF","size":40,"opacity":1},
   "encoding":{
    "x":{"field":"d","type":"quantitative","axis":{"orient":"top","values":[2,4,6,8,10,12,14,16,18],"labels":false,"grid":false,"title":null}},
    "y":{"field":"r","type":"quantitative","axis":{"orient":"right","values":[1],"labels":false,"grid":false,"title":null}}}},
  {"data":{"values":[{}]},"mark":{"type":"text","text":"no precip","font":"Open Sans","fontSize":32,"color":"#FF0000","align":"center","baseline":"alphabetic"},
   "encoding":{"x":{"datum":8.558,"type":"quantitative","axis":null},"y":{"datum":0.125,"type":"quantitative","axis":null}}},
  {"data":{"values":[{}]},"mark":{"type":"rule","color":"#FF0000","strokeWidth":3.5},
   "encoding":{"x":{"datum":8.547,"type":"quantitative","axis":null},"y":{"datum":0.049,"type":"quantitative","axis":null},"y2":{"datum":0.0083}}},
  {"data":{"values":[{}]},"mark":{"type":"point","shape":"triangle-down","filled":true,"color":"#FF0000","size":150,"opacity":1},
   "encoding":{"x":{"datum":8.547,"type":"quantitative","axis":null},"y":{"datum":0.0074,"type":"quantitative","axis":null}}},
  {"data":{"name":"boxes"},"mark":{"type":"rule","color":"#FFC000","strokeWidth":4.5,"strokeCap":"square"},
   "encoding":{"x":{"field":"a","type":"quantitative","axis":null},"y":{"datum":14.9,"type":"quantitative","axis":null},"y2":{"datum":2.16e-5}}},
  {"data":{"name":"boxes"},"mark":{"type":"rule","color":"#FFC000","strokeWidth":4.5,"strokeCap":"square"},
   "encoding":{"x":{"field":"b","type":"quantitative","axis":null},"y":{"datum":14.9,"type":"quantitative","axis":null},"y2":{"datum":2.16e-5}}},
  {"data":{"name":"boxes"},"mark":{"type":"rule","color":"#FFC000","strokeWidth":4.5,"strokeCap":"square"},
   "encoding":{"x":{"field":"a","type":"quantitative","axis":null},"x2":{"field":"b"},"y":{"datum":14.9,"type":"quantitative","axis":null}}}
 ]
},
{
 "width":1565,"height":250,
 "resolve":{"axis":{"x":"independent","y":"independent"}},
 "layer":[
  {"data":{"name":"wind"},"mark":{"type":"line","color":"#0072BD","strokeWidth":1.8},
   "encoding":{
    "x":{"field":"d","type":"quantitative","scale":{"domain":[0.905,18.008],"nice":false,"zero":false},
     "axis":{"orient":"bottom","values":[2,4,6,8,10,12,14,16,18],"labelExpr":"'09/' + (datum.value < 10 ? '0' : '') + datum.value","grid":true,"title":null,"labelPadding":31,"labelFlush":false,"labelOverlap":false}},
    "y":{"field":"u","type":"quantitative","scale":{"domain":[0,15],"nice":false,"zero":false},
     "axis":{"orient":"left","values":[0,5,10,15],"grid":true,"title":"U₁₀ [m s⁻¹]","titleX":-67,"titleY":125,"titleAngle":270,"titleAlign":"center","titleBaseline":"alphabetic","labelPadding":27}}}},
  {"data":{"name":"windDots"},"mark":{"type":"point","filled":true,"color":"#0000FF","size":34,"opacity":1},
   "encoding":{
    "x":{"field":"d","type":"quantitative","axis":{"orient":"top","values":[2,4,6,8,10,12,14,16,18],"labels":false,"grid":false,"title":null}},
    "y":{"field":"u","type":"quantitative","axis":{"orient":"right","values":[0,5,10,15],"labels":false,"grid":false,"title":null}}}},
  {"data":{"name":"boxes"},"mark":{"type":"rule","color":"#FFC000","strokeWidth":4.5},
   "encoding":{"x":{"field":"a","type":"quantitative","axis":null},"y":{"datum":21,"type":"quantitative","axis":null},"y2":{"datum":-6}}},
  {"data":{"name":"boxes"},"mark":{"type":"rule","color":"#FFC000","strokeWidth":4.5},
   "encoding":{"x":{"field":"b","type":"quantitative","axis":null},"y":{"datum":21,"type":"quantitative","axis":null},"y2":{"datum":-6}}}
 ]
},
{
 "width":1565,"height":252,
 "resolve":{"axis":{"x":"independent","y":"independent"}},
 "layer":[
  {"data":{"name":"salRange"},"mark":{"type":"rule","color":"#1CF0F0","strokeWidth":3.2},
   "encoding":{
    "x":{"field":"d","type":"quantitative","scale":{"domain":[0.905,18.008],"nice":false,"zero":false},
     "axis":{"orient":"bottom","values":[2,4,6,8,10,12,14,16,18],"labelExpr":"'09/' + (datum.value < 10 ? '0' : '') + datum.value","grid":true,"labelPadding":31,"labelFlush":false,"labelOverlap":false,"title":"date in 2016","titleFont":"Open Sans","titleFontSize":37,"titleColor":"#000000","titleX":734,"titleY":86,"titleAlign":"center","titleBaseline":"alphabetic","titleAngle":0}},
    "y":{"field":"lo","type":"quantitative","scale":{"type":"log","domain":[1e-5,10],"nice":false},
     "axis":{"orient":"left","values":[1e-5,1e-4,0.001,0.01,0.1,1,10],"labelExpr":"datum.value == 1 ? '10⁰' : (datum.value < 2e-5 ? '10⁻⁵' : '')","grid":true,"title":"ΔSalinity [psu]","titleX":-74,"titleY":126,"titleAngle":270,"titleAlign":"center","titleBaseline":"alphabetic","labelPadding":27,"labelOffset":4}},
    "y2":{"field":"hi"}}},
  {"data":{"name":"salDots"},"mark":{"type":"point","filled":true,"color":"#0E5EA8","size":38,"opacity":1},
   "encoding":{
    "x":{"field":"d","type":"quantitative","axis":{"orient":"top","values":[2,4,6,8,10,12,14,16,18],"labels":false,"grid":false,"title":null}},
    "y":{"field":"s","type":"quantitative","axis":{"orient":"right","values":[1e-5,1e-4,0.001,0.01,0.1,1,10],"labels":false,"grid":false,"title":null}}}},
  {"data":{"values":[{}]},"mark":{"type":"text","text":"SSP","font":"Open Sans","fontSize":52,"color":"#000000","align":"center","baseline":"alphabetic"},
   "encoding":{"x":{"datum":7.126,"type":"quantitative","axis":null},"y":{"datum":0.817,"type":"quantitative","axis":null}}},
  {"data":{"values":[{}]},"mark":{"type":"text","text":"S","font":"Open Sans","fontSize":52,"color":"#000000","align":"left","baseline":"alphabetic"},
   "encoding":{"x":{"datum":6.055,"type":"quantitative","axis":null},"y":{"datum":0.01225,"type":"quantitative","axis":null}}},
  {"data":{"values":[{}]},"mark":{"type":"text","text":"1m","font":"Open Sans","fontSize":34,"color":"#000000","align":"left","baseline":"alphabetic"},
   "encoding":{"x":{"datum":6.405,"type":"quantitative","axis":null},"y":{"datum":0.00509,"type":"quantitative","axis":null}}},
  {"data":{"values":[{}]},"mark":{"type":"text","text":"-S","font":"Open Sans","fontSize":52,"color":"#000000","align":"left","baseline":"alphabetic"},
   "encoding":{"x":{"datum":7.0,"type":"quantitative","axis":null},"y":{"datum":0.01225,"type":"quantitative","axis":null}}},
  {"data":{"values":[{}]},"mark":{"type":"text","text":"5cm","font":"Open Sans","fontSize":34,"color":"#000000","align":"left","baseline":"alphabetic"},
   "encoding":{"x":{"datum":7.53,"type":"quantitative","axis":null},"y":{"datum":0.00588,"type":"quantitative","axis":null}}},
  {"data":{"name":"boxes"},"mark":{"type":"rule","color":"#FFC000","strokeWidth":4.5,"strokeCap":"square"},
   "encoding":{"x":{"field":"a","type":"quantitative","axis":null},"y":{"datum":10,"type":"quantitative","axis":null},"y2":{"datum":1e-5}}},
  {"data":{"name":"boxes"},"mark":{"type":"rule","color":"#FFC000","strokeWidth":4.5,"strokeCap":"square"},
   "encoding":{"x":{"field":"b","type":"quantitative","axis":null},"y":{"datum":10,"type":"quantitative","axis":null},"y2":{"datum":1e-5}}},
  {"data":{"name":"boxes"},"mark":{"type":"rule","color":"#FFC000","strokeWidth":4.5,"strokeCap":"square"},
   "encoding":{"x":{"field":"a","type":"quantitative","axis":null},"x2":{"field":"b"},"y":{"datum":1e-5,"type":"quantitative","axis":null}}}
 ]
}
]
}
